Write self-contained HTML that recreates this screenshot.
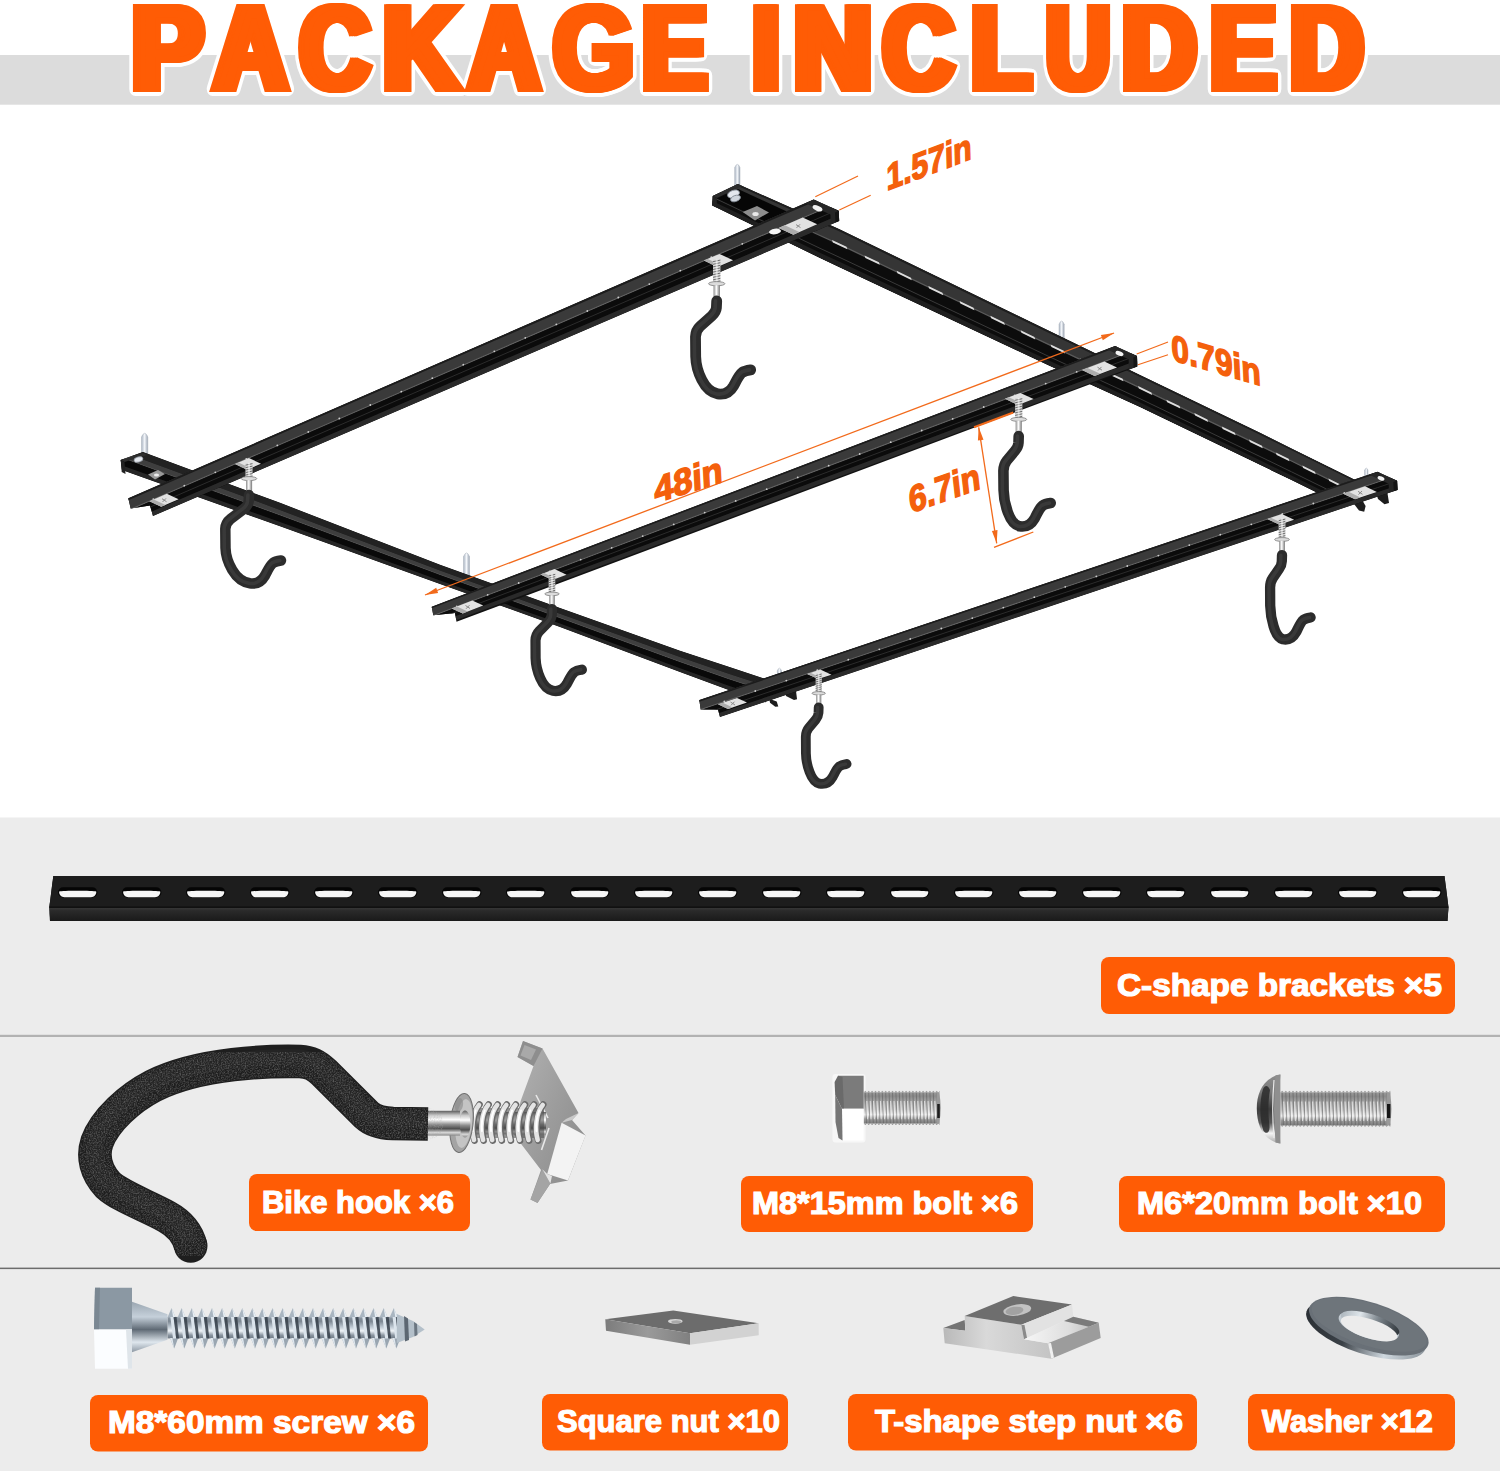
<!DOCTYPE html>
<html lang="en">
<head>
<meta charset="utf-8">
<title>Package Included</title>
<style>
html,body{margin:0;padding:0;background:#fff;}
body{width:1500px;height:1471px;overflow:hidden;font-family:"Liberation Sans",sans-serif;}
svg{display:block;position:absolute;left:0;top:0;}
text{font-family:"Liberation Sans",sans-serif;}
</style>
</head>
<body>
<svg width="1500" height="1471" viewBox="0 0 1500 1471">

<!-- backgrounds -->
<rect x="0" y="0" width="1500" height="1471" fill="#ffffff"/>
<rect x="0" y="55" width="1500" height="49.7" fill="#dcdcdc"/>
<rect x="0" y="817.5" width="1500" height="653.5" fill="#ececec"/>
<rect x="0" y="1034.8" width="1500" height="2.2" fill="#b2b2b2"/>
<rect x="0" y="1267.6" width="1500" height="1.5" fill="#6c6c6c"/>

<!-- diagram -->
<defs>
<clipPath id="c1"><polygon points="712.8,195.9 737.9,184.1 820.0,220.6 839.0,229.0 1050.0,331.3 1140.0,375.0 1260.0,432.8 1291.5,448.4 1330.0,467.4 1352.8,478.7 1385.0,494.0 1330.0,499.0 1291.5,480.0 1260.0,464.8 1140.0,407.0 1050.0,366.0 839.0,266.9 820.0,258.0 737.9,218.0 712.3,205.5"/></clipPath>
<clipPath id="c2"><polygon points="120.7,460.0 143.0,452.0 280.0,502.8 440.0,564.7 560.0,608.0 680.0,650.7 728.7,666.8 764.7,678.7 766.0,679.2 766.0,702.3 764.7,701.9 728.7,690.0 680.0,672.0 560.0,627.0 440.0,583.9 280.0,526.3 143.0,477.5 122.0,470.0"/></clipPath>
<clipPath id="c3"><polygon points="128.3,498.3 813.6,199.6 838.7,210.8 839.2,220.9 153.0,516.0 150.0,505.5 130.7,508.5"/></clipPath>
<clipPath id="c4"><polygon points="431.7,606.7 1115.0,346.0 1137.0,356.0 1137.4,366.5 456.5,621.7 455.0,613.0 433.3,615.3"/></clipPath>
<clipPath id="c5"><polygon points="699.3,700.0 1377.3,471.7 1397.1,480.8 1397.6,489.9 720.0,717.0 718.0,709.5 700.7,709.5"/></clipPath>
<linearGradient id="neck" x1="0" y1="0" x2="1" y2="0"><stop offset="0" stop-color="#8c8c8c"/><stop offset="0.45" stop-color="#ffffff"/><stop offset="1" stop-color="#777"/></linearGradient>
<linearGradient id="scr" x1="0" y1="0" x2="1" y2="0"><stop offset="0" stop-color="#aab4c2"/><stop offset="0.5" stop-color="#f4f7fb"/><stop offset="1" stop-color="#9aa4b2"/></linearGradient>
</defs>
<g>
<path d="M734.7,186.0 L734.7,167.5 Q737.4,161.2 740.0,167.5 L740.0,186.0z" fill="url(#scr)" stroke="#a9b0bb" stroke-width="0.5"/>
<path d="M1059.0,340.0 L1059.0,324.2 Q1061.6,317.9 1064.2,324.2 L1064.2,340.0z" fill="url(#scr)" stroke="#a9b0bb" stroke-width="0.5"/>
<path d="M1364.6,476.0 L1364.6,470.2 Q1366.3,466.1 1368.0,470.2 L1368.0,476.0z" fill="url(#scr)" stroke="#a9b0bb" stroke-width="0.5"/>
<path d="M141.5,455.0 L141.5,437.0 Q144.7,429.5 147.8,437.0 L147.8,455.0z" fill="url(#scr)" stroke="#a9b0bb" stroke-width="0.5"/>
<path d="M463.5,579.0 L463.5,556.5 Q466.5,549.3 469.5,556.5 L469.5,579.0z" fill="url(#scr)" stroke="#a9b0bb" stroke-width="0.5"/>
<path d="M777.3,676.0 L777.3,670.7 Q779.4,665.6 781.5,670.7 L781.5,676.0z" fill="url(#scr)" stroke="#a9b0bb" stroke-width="0.5"/>
<polygon points="712.8,195.9 737.9,184.1 820.0,220.6 839.0,229.0 1050.0,331.3 1140.0,375.0 1260.0,432.8 1291.5,448.4 1330.0,467.4 1352.8,478.7 1385.0,494.0 1330.0,499.0 1291.5,480.0 1260.0,464.8 1140.0,407.0 1050.0,366.0 839.0,266.9 820.0,258.0 737.9,218.0 712.3,205.5" fill="#101010" />
<g clip-path="url(#c1)">
<polygon points="700.0,167.3 712.3,172.7 737.9,184.1 820.0,220.6 839.0,229.0 1050.0,331.3 1140.0,375.0 1260.0,432.8 1291.5,448.4 1330.0,467.4 1352.8,478.7 1385.0,494.0 1400.0,501.1 1400.0,514.1 1385.0,506.9 1352.8,491.3 1330.0,480.1 1291.5,461.0 1260.0,445.6 1140.0,387.8 1050.0,345.2 839.0,244.2 820.0,235.5 737.9,197.7 712.3,185.8 700.0,180.2" fill="#353535" />
<polygon points="700.0,167.3 712.3,172.7 737.9,184.1 820.0,220.6 839.0,229.0 1050.0,331.3 1140.0,375.0 1260.0,432.8 1291.5,448.4 1330.0,467.4 1352.8,478.7 1385.0,494.0 1400.0,501.1 1400.0,503.1 1385.0,495.9 1352.8,480.6 1330.0,469.3 1291.5,450.3 1260.0,434.7 1140.0,376.9 1050.0,333.4 839.0,231.3 820.0,222.8 737.9,186.1 712.3,174.7 700.0,169.2" fill="#1e1e1e" />
<polyline points="700.0,180.2 712.3,185.8 737.9,197.7 820.0,235.5 839.0,244.2 1050.0,345.2 1140.0,387.8 1260.0,445.6 1291.5,461.0 1330.0,480.1 1352.8,491.3 1385.0,506.9 1400.0,514.1" fill="none" stroke="#5a5a5a" stroke-width="1.3"/>
<polygon points="700.0,181.5 712.3,187.1 737.9,199.0 820.0,237.0 839.0,245.7 1050.0,346.6 1140.0,389.1 1260.0,446.9 1291.5,462.3 1330.0,481.3 1352.8,492.6 1385.0,508.1 1400.0,515.4 1400.0,533.5 1385.0,526.1 1352.8,510.3 1330.0,499.0 1291.5,480.0 1260.0,464.8 1140.0,407.0 1050.0,366.0 839.0,266.9 820.0,258.0 737.9,218.0 712.3,205.5 700.0,199.5" fill="#0c0c0c" />
<polyline points="700.0,191.1 712.3,197.0 737.9,209.2 820.0,248.3 839.0,257.1 1050.0,357.0 1140.0,398.7 1260.0,456.5 1291.5,471.8 1330.0,490.8 1352.8,502.0 1385.0,517.8 1400.0,525.1" fill="none" stroke="#3a3a3a" stroke-width="1.0"/>
<polygon points="700.0,195.0 712.3,200.9 737.9,213.2 820.0,252.8 839.0,261.6 1050.0,361.1 1140.0,402.5 1260.0,460.3 1291.5,475.6 1330.0,494.6 1352.8,505.8 1385.0,521.6 1400.0,529.0 1400.0,533.5 1385.0,526.1 1352.8,510.3 1330.0,499.0 1291.5,480.0 1260.0,464.8 1140.0,407.0 1050.0,366.0 839.0,266.9 820.0,258.0 737.9,218.0 712.3,205.5 700.0,199.5" fill="#1f1f1f" />
</g>
<polygon points="712.8,195.9 737.9,184.1 742.0,186.0 717.0,198.0" fill="#2c2c2c" />
<polygon points="712.8,195.9 717.0,198.0 716.5,207.5 712.3,205.5" fill="#232323" />
<polygon points="718.0,198.5 738.0,189.0 790.0,213.0 772.0,224.0" fill="#060606" />
<polygon points="832.0,240.0 846.5,246.8 847.4,249.3 832.9,242.5" fill="#dedede" />
<polygon points="864.5,255.5 878.9,262.3 879.8,264.8 865.4,258.0" fill="#dedede" />
<polygon points="896.6,270.8 910.9,277.7 911.8,280.2 897.5,273.3" fill="#dedede" />
<polygon points="928.3,286.0 942.4,292.8 943.3,295.3 929.2,288.5" fill="#dedede" />
<polygon points="959.5,301.0 973.5,307.7 974.4,310.2 960.4,303.5" fill="#dedede" />
<polygon points="990.3,315.7 1004.1,322.4 1005.0,324.9 991.2,318.2" fill="#dedede" />
<polygon points="1020.6,330.3 1034.4,336.9 1035.3,339.4 1021.5,332.8" fill="#dedede" />
<polygon points="1050.6,344.6 1064.2,351.1 1065.1,353.6 1051.5,347.1" fill="#dedede" />
<polygon points="1080.1,358.6 1093.6,365.0 1094.5,367.5 1081.0,361.1" fill="#dedede" />
<polygon points="1109.2,372.4 1122.6,378.8 1123.5,381.3 1110.1,374.9" fill="#dedede" />
<polygon points="1138.0,386.0 1151.3,392.4 1152.2,394.9 1138.9,388.5" fill="#dedede" />
<polygon points="1166.3,399.7 1179.5,406.0 1180.4,408.5 1167.2,402.2" fill="#dedede" />
<polygon points="1194.3,413.1 1207.3,419.4 1208.2,421.9 1195.2,415.6" fill="#dedede" />
<polygon points="1221.8,426.4 1234.8,432.7 1235.7,435.2 1222.7,428.9" fill="#dedede" />
<polygon points="1249.0,439.5 1261.9,445.7 1262.8,448.2 1249.9,442.0" fill="#dedede" />
<polygon points="1275.8,452.6 1288.6,458.8 1289.5,461.3 1276.7,455.1" fill="#dedede" />
<polygon points="1302.3,465.6 1314.9,471.8 1315.8,474.3 1303.2,468.1" fill="#dedede" />
<polygon points="1328.4,478.5 1340.9,484.7 1341.8,487.2 1329.3,481.0" fill="#dedede" />
<polygon points="120.7,460.0 143.0,452.0 280.0,502.8 440.0,564.7 560.0,608.0 680.0,650.7 728.7,666.8 764.7,678.7 766.0,679.2 766.0,702.3 764.7,701.9 728.7,690.0 680.0,672.0 560.0,627.0 440.0,583.9 280.0,526.3 143.0,477.5 122.0,470.0" fill="#0d0d0d" />
<g clip-path="url(#c2)">
<polygon points="100.0,436.1 122.0,444.2 143.0,452.0 280.0,502.8 440.0,564.7 560.0,608.0 680.0,650.7 728.7,666.8 764.7,678.7 797.0,691.0 820.0,699.8 820.0,705.9 797.0,697.5 764.7,685.6 728.7,673.8 680.0,657.1 560.0,613.7 440.0,570.5 280.0,509.9 143.0,459.6 122.0,451.9 100.0,443.9" fill="#222222" />
<polygon points="100.0,443.9 122.0,451.9 143.0,459.6 280.0,509.9 440.0,570.5 560.0,613.7 680.0,657.1 728.7,673.8 764.7,685.6 797.0,697.5 820.0,705.9 820.0,710.3 797.0,702.2 764.7,690.7 728.7,678.9 680.0,661.8 560.0,617.9 440.0,574.7 280.0,515.0 143.0,465.3 122.0,457.6 100.0,449.6" fill="#3e3e3e" />
<polyline points="100.0,449.6 122.0,457.6 143.0,465.3 280.0,515.0 440.0,574.7 560.0,617.9 680.0,661.8 728.7,678.9 764.7,690.7 797.0,702.2 820.0,710.3" fill="none" stroke="#555555" stroke-width="1.0"/>
<polygon points="100.0,450.2 122.0,458.1 143.0,465.8 280.0,515.5 440.0,575.1 560.0,618.3 680.0,662.2 728.7,679.3 764.7,691.2 797.0,702.6 820.0,710.7 820.0,716.4 797.0,708.6 764.7,697.7 728.7,685.8 680.0,668.2 560.0,623.6 440.0,580.4 280.0,522.1 143.0,472.9 122.0,465.4 100.0,457.5" fill="#090909" />
<polygon points="100.0,457.5 122.0,465.4 143.0,472.9 280.0,522.1 440.0,580.4 560.0,623.6 680.0,668.2 728.7,685.8 764.7,697.7 797.0,708.6 820.0,716.4 820.0,720.1 797.0,712.5 764.7,701.9 728.7,690.0 680.0,672.0 560.0,627.0 440.0,583.9 280.0,526.3 143.0,477.5 122.0,470.0 100.0,462.2" fill="#262626" />
</g>
<polygon points="120.7,460.0 143.0,453.0 147.0,455.0 124.5,462.0" fill="#2e2e2e" />
<polygon points="120.7,460.0 124.5,462.0 125.5,474.0 121.7,472.0" fill="#222" />
<polygon points="769.3,698.7 776.7,701.6 778.3,706.4 775.3,706.7 770.0,702.7" fill="#1d1d1d" />
<polygon points="785.3,692.7 796.0,690.7 797.0,699.3 794.0,700.0 786.0,696.0" fill="#1d1d1d" />
<polygon points="1351.7,501.0 1361.0,498.0 1365.6,506.0 1364.2,511.7 1359.0,510.5" fill="#1d1d1d" />
<polygon points="1376.3,493.5 1387.0,490.0 1389.0,503.0 1384.5,504.3 1378.0,499.0" fill="#1d1d1d" />
<polygon points="128.3,498.3 813.6,199.6 838.7,210.8 839.2,220.9 153.0,516.0 150.0,505.5 130.7,508.5" fill="#121212" />
<g clip-path="url(#c3)">
<polygon points="108.3,507.0 128.3,498.3 151.0,488.4 813.6,199.6 839.2,188.4 858.7,179.9 858.7,193.6 839.2,202.1 813.6,213.2 151.0,500.4 128.3,510.3 108.3,518.9" fill="#3a3a3a" />
<polygon points="108.3,507.0 128.3,498.3 151.0,488.4 813.6,199.6 839.2,188.4 858.7,179.9 858.7,182.2 839.2,190.7 813.6,201.9 151.0,490.4 128.3,500.3 108.3,509.0" fill="#1c1c1c" />
<polyline points="108.3,518.9 128.3,510.3 151.0,500.4 813.6,213.2 839.2,202.1 858.7,193.6" fill="none" stroke="#626262" stroke-width="1.1"/>
<polygon points="108.3,519.8 128.3,511.1 151.0,501.3 813.6,214.1 839.2,203.0 858.7,194.6 858.7,206.6 839.2,215.1 813.6,226.1 151.0,511.9 128.3,521.6 108.3,530.3" fill="#0b0b0b" />
<polyline points="108.3,525.2 128.3,516.5 151.0,506.7 813.6,220.3 839.2,209.2 858.7,200.8" fill="none" stroke="#2c2c2c" stroke-width="1.0"/>
<polygon points="108.3,530.3 128.3,521.6 151.0,511.9 813.6,226.1 839.2,215.1 858.7,206.6 858.7,212.5 839.2,220.9 813.6,231.9 151.0,517.0 128.3,526.8 108.3,535.4" fill="#2a2a2a" />
<circle cx="153.3" cy="499.1" r="0.9" fill="#cfcfcf"/>
<circle cx="184.3" cy="485.7" r="0.9" fill="#cfcfcf"/>
<circle cx="215.3" cy="472.3" r="0.9" fill="#cfcfcf"/>
<circle cx="246.3" cy="458.8" r="0.9" fill="#cfcfcf"/>
<circle cx="277.3" cy="445.4" r="0.9" fill="#cfcfcf"/>
<circle cx="308.3" cy="431.9" r="0.9" fill="#cfcfcf"/>
<circle cx="339.3" cy="418.5" r="0.9" fill="#cfcfcf"/>
<circle cx="370.3" cy="405.0" r="0.9" fill="#cfcfcf"/>
<circle cx="401.3" cy="391.6" r="0.9" fill="#cfcfcf"/>
<circle cx="432.3" cy="378.2" r="0.9" fill="#cfcfcf"/>
<circle cx="463.3" cy="364.7" r="0.9" fill="#cfcfcf"/>
<circle cx="494.3" cy="351.3" r="0.9" fill="#cfcfcf"/>
<circle cx="525.3" cy="337.8" r="0.9" fill="#cfcfcf"/>
<circle cx="556.3" cy="324.4" r="0.9" fill="#cfcfcf"/>
<circle cx="587.3" cy="311.0" r="0.9" fill="#cfcfcf"/>
<circle cx="618.3" cy="297.5" r="0.9" fill="#cfcfcf"/>
<circle cx="649.3" cy="284.1" r="0.9" fill="#cfcfcf"/>
<circle cx="680.3" cy="270.6" r="0.9" fill="#cfcfcf"/>
<circle cx="711.3" cy="257.2" r="0.9" fill="#cfcfcf"/>
<circle cx="742.3" cy="243.8" r="0.9" fill="#cfcfcf"/>
<circle cx="773.3" cy="230.3" r="0.9" fill="#cfcfcf"/>
<polygon points="813.6,199.6 838.7,210.8 839.2,220.9 830.9,224.5 830.4,214.4 805.3,203.2" fill="#262626" />
<polygon points="838.7,210.8 839.2,220.9 835.5,222.5 835.0,212.4" fill="#151515" />
</g>
<ellipse cx="817.5" cy="208.3" rx="5.2" ry="2.6" fill="#f2f2f2" transform="rotate(22 817.5 208.3)"/>
<polygon points="431.7,606.7 1115.0,346.0 1137.0,356.0 1137.4,366.5 456.5,621.7 455.0,613.0 433.3,615.3" fill="#121212" />
<g clip-path="url(#c4)">
<polygon points="411.7,614.3 431.7,606.7 456.0,597.4 1115.0,346.0 1137.4,337.5 1157.0,330.0 1157.0,341.7 1137.4,349.1 1115.0,357.6 456.0,607.0 431.7,616.2 411.7,623.8" fill="#3a3a3a" />
<polygon points="411.7,614.3 431.7,606.7 456.0,597.4 1115.0,346.0 1137.4,337.5 1157.0,330.0 1157.0,331.9 1137.4,339.4 1115.0,347.9 456.0,599.0 431.7,608.3 411.7,615.9" fill="#1c1c1c" />
<polyline points="411.7,623.8 431.7,616.2 456.0,607.0 1115.0,357.6 1137.4,349.1 1157.0,341.7" fill="none" stroke="#626262" stroke-width="1.1"/>
<polygon points="411.7,624.4 431.7,616.9 456.0,607.7 1115.0,358.5 1137.4,350.0 1157.0,342.6 1157.0,352.9 1137.4,360.3 1115.0,368.7 456.0,616.1 431.7,625.2 411.7,632.7" fill="#0b0b0b" />
<polyline points="411.7,628.7 431.7,621.2 456.0,612.0 1115.0,363.7 1137.4,355.3 1157.0,347.9" fill="none" stroke="#2c2c2c" stroke-width="1.0"/>
<polygon points="411.7,632.7 431.7,625.2 456.0,616.1 1115.0,368.7 1137.4,360.3 1157.0,352.9 1157.0,358.0 1137.4,365.3 1115.0,373.7 456.0,620.2 431.7,629.3 411.7,636.8" fill="#2a2a2a" />
<circle cx="456.7" cy="606.5" r="0.9" fill="#cfcfcf"/>
<circle cx="487.7" cy="594.8" r="0.9" fill="#cfcfcf"/>
<circle cx="518.7" cy="583.0" r="0.9" fill="#cfcfcf"/>
<circle cx="549.7" cy="571.3" r="0.9" fill="#cfcfcf"/>
<circle cx="580.7" cy="559.6" r="0.9" fill="#cfcfcf"/>
<circle cx="611.7" cy="547.8" r="0.9" fill="#cfcfcf"/>
<circle cx="642.7" cy="536.1" r="0.9" fill="#cfcfcf"/>
<circle cx="673.7" cy="524.4" r="0.9" fill="#cfcfcf"/>
<circle cx="704.7" cy="512.6" r="0.9" fill="#cfcfcf"/>
<circle cx="735.7" cy="500.9" r="0.9" fill="#cfcfcf"/>
<circle cx="766.7" cy="489.2" r="0.9" fill="#cfcfcf"/>
<circle cx="797.7" cy="477.4" r="0.9" fill="#cfcfcf"/>
<circle cx="828.7" cy="465.7" r="0.9" fill="#cfcfcf"/>
<circle cx="859.7" cy="454.0" r="0.9" fill="#cfcfcf"/>
<circle cx="890.7" cy="442.2" r="0.9" fill="#cfcfcf"/>
<circle cx="921.7" cy="430.5" r="0.9" fill="#cfcfcf"/>
<circle cx="952.7" cy="418.8" r="0.9" fill="#cfcfcf"/>
<circle cx="983.7" cy="407.0" r="0.9" fill="#cfcfcf"/>
<circle cx="1014.7" cy="395.3" r="0.9" fill="#cfcfcf"/>
<circle cx="1045.7" cy="383.6" r="0.9" fill="#cfcfcf"/>
<circle cx="1076.7" cy="371.8" r="0.9" fill="#cfcfcf"/>
<polygon points="1115.0,346.0 1137.0,356.0 1137.4,366.5 1129.0,369.7 1128.6,359.2 1106.6,349.2" fill="#262626" />
<polygon points="1137.0,356.0 1137.4,366.5 1133.7,367.9 1133.3,357.4" fill="#151515" />
</g>
<ellipse cx="1119.5" cy="353.5" rx="4.2" ry="2.2" fill="#f2f2f2" transform="rotate(22 1119.5 353.5)"/>
<polygon points="699.3,700.0 1377.3,471.7 1397.1,480.8 1397.6,489.9 720.0,717.0 718.0,709.5 700.7,709.5" fill="#121212" />
<g clip-path="url(#c5)">
<polygon points="679.3,706.7 699.3,700.0 720.0,693.0 1377.3,471.7 1397.6,464.9 1417.1,458.3 1417.1,468.8 1397.6,475.4 1377.3,482.2 720.0,703.1 699.3,710.1 679.3,716.8" fill="#3a3a3a" />
<polygon points="679.3,706.7 699.3,700.0 720.0,693.0 1377.3,471.7 1397.6,464.9 1417.1,458.3 1417.1,460.1 1397.6,466.6 1377.3,473.5 720.0,694.7 699.3,701.7 679.3,708.4" fill="#1c1c1c" />
<polyline points="679.3,716.8 699.3,710.1 720.0,703.1 1377.3,482.2 1397.6,475.4 1417.1,468.8" fill="none" stroke="#626262" stroke-width="1.1"/>
<polygon points="679.3,717.5 699.3,710.8 720.0,703.8 1377.3,483.0 1397.6,476.1 1417.1,469.6 1417.1,478.9 1397.6,485.4 1377.3,492.2 720.0,712.7 699.3,719.6 679.3,726.3" fill="#0b0b0b" />
<polyline points="679.3,722.0 699.3,715.3 720.0,708.4 1377.3,487.7 1397.6,480.9 1417.1,474.3" fill="none" stroke="#2c2c2c" stroke-width="1.0"/>
<polygon points="679.3,726.3 699.3,719.6 720.0,712.7 1377.3,492.2 1397.6,485.4 1417.1,478.9 1417.1,483.4 1397.6,489.9 1377.3,496.7 720.0,717.0 699.3,723.9 679.3,730.6" fill="#2a2a2a" />
<circle cx="724.3" cy="701.4" r="0.9" fill="#cfcfcf"/>
<circle cx="755.3" cy="691.0" r="0.9" fill="#cfcfcf"/>
<circle cx="786.3" cy="680.6" r="0.9" fill="#cfcfcf"/>
<circle cx="817.3" cy="670.2" r="0.9" fill="#cfcfcf"/>
<circle cx="848.3" cy="659.7" r="0.9" fill="#cfcfcf"/>
<circle cx="879.3" cy="649.3" r="0.9" fill="#cfcfcf"/>
<circle cx="910.3" cy="638.9" r="0.9" fill="#cfcfcf"/>
<circle cx="941.3" cy="628.5" r="0.9" fill="#cfcfcf"/>
<circle cx="972.3" cy="618.1" r="0.9" fill="#cfcfcf"/>
<circle cx="1003.3" cy="607.6" r="0.9" fill="#cfcfcf"/>
<circle cx="1034.3" cy="597.2" r="0.9" fill="#cfcfcf"/>
<circle cx="1065.3" cy="586.8" r="0.9" fill="#cfcfcf"/>
<circle cx="1096.3" cy="576.4" r="0.9" fill="#cfcfcf"/>
<circle cx="1127.3" cy="566.0" r="0.9" fill="#cfcfcf"/>
<circle cx="1158.3" cy="555.6" r="0.9" fill="#cfcfcf"/>
<circle cx="1189.3" cy="545.1" r="0.9" fill="#cfcfcf"/>
<circle cx="1220.3" cy="534.7" r="0.9" fill="#cfcfcf"/>
<circle cx="1251.3" cy="524.3" r="0.9" fill="#cfcfcf"/>
<circle cx="1282.3" cy="513.9" r="0.9" fill="#cfcfcf"/>
<circle cx="1313.3" cy="503.5" r="0.9" fill="#cfcfcf"/>
<circle cx="1344.3" cy="493.0" r="0.9" fill="#cfcfcf"/>
<polygon points="1377.3,471.7 1397.1,480.8 1397.6,489.9 1389.1,492.8 1388.6,483.7 1368.8,474.6" fill="#262626" />
<polygon points="1397.1,480.8 1397.6,489.9 1393.8,491.2 1393.3,482.1" fill="#151515" />
</g>
<ellipse cx="1381" cy="478.3" rx="3.6" ry="2.0" fill="#f2f2f2" transform="rotate(22 1381 478.3)"/>
<polygon points="778.8,227.9 802.7,217.5 817.2,224.3 793.3,234.7" fill="#e2e2e2" />
<polygon points="778.8,227.9 784.8,225.3 799.3,232.1 793.3,234.7" fill="#adadad" />
<line x1="796.0" y1="224.6" x2="800.5" y2="227.6" stroke="#8a8a8a" stroke-width="1" />
<line x1="796.5" y1="227.9" x2="800.0" y2="224.3" stroke="#8a8a8a" stroke-width="1" />
<ellipse cx="775" cy="231.5" rx="6" ry="2.8" fill="#f4f4f4" transform="rotate(-8 775 231.5)"/>
<polygon points="149.4,501.3 166.8,493.7 178.6,499.2 161.2,506.8" fill="#e2e2e2" />
<polygon points="149.4,501.3 153.8,499.4 165.5,504.9 161.2,506.8" fill="#adadad" />
<line x1="162.0" y1="498.7" x2="166.5" y2="501.7" stroke="#8a8a8a" stroke-width="1" />
<line x1="162.5" y1="502.0" x2="166.0" y2="498.4" stroke="#8a8a8a" stroke-width="1" />
<polygon points="1082.0,370.0 1104.4,361.5 1117.0,367.4 1094.6,376.0" fill="#e2e2e2" />
<polygon points="1082.0,370.0 1087.6,367.9 1100.2,373.8 1094.6,376.0" fill="#adadad" />
<line x1="1097.5" y1="367.2" x2="1102.0" y2="370.2" stroke="#8a8a8a" stroke-width="1" />
<line x1="1098.0" y1="370.5" x2="1101.5" y2="366.9" stroke="#8a8a8a" stroke-width="1" />
<polygon points="451.8,608.4 472.3,600.5 483.2,605.6 462.7,613.5" fill="#e2e2e2" />
<polygon points="451.8,608.4 456.9,606.4 467.8,611.5 462.7,613.5" fill="#adadad" />
<line x1="465.5" y1="605.5" x2="470.0" y2="608.5" stroke="#8a8a8a" stroke-width="1" />
<line x1="466.0" y1="608.8" x2="469.5" y2="605.2" stroke="#8a8a8a" stroke-width="1" />
<polygon points="1343.2,493.7 1365.0,486.3 1376.8,491.9 1355.0,499.2" fill="#e2e2e2" />
<polygon points="1343.2,493.7 1348.7,491.8 1360.4,497.4 1355.0,499.2" fill="#adadad" />
<line x1="1358.0" y1="491.3" x2="1362.5" y2="494.3" stroke="#8a8a8a" stroke-width="1" />
<line x1="1358.5" y1="494.6" x2="1362.0" y2="491.0" stroke="#8a8a8a" stroke-width="1" />
<polygon points="718.0,704.3 737.0,697.9 747.0,702.6 728.0,709.0" fill="#e2e2e2" />
<polygon points="718.0,704.3 722.8,702.7 732.7,707.4 728.0,709.0" fill="#adadad" />
<line x1="730.5" y1="702.0" x2="735.0" y2="705.0" stroke="#8a8a8a" stroke-width="1" />
<line x1="731.0" y1="705.3" x2="734.5" y2="701.7" stroke="#8a8a8a" stroke-width="1" />
<ellipse cx="733.5" cy="194" rx="6.2" ry="3.6" fill="#e4e8ee" stroke="#8d949e" stroke-width="0.8" transform="rotate(-20 733.5 194)"/>
<ellipse cx="735.5" cy="198.5" rx="5.2" ry="3" fill="#cfd5dd" stroke="#808792" stroke-width="0.8" transform="rotate(-20 735.5 198.5)"/>
<polygon points="742.7,212.0 757.0,206.0 769.0,212.5 755.0,220.5" fill="#8d8d8d" />
<ellipse cx="755.5" cy="214" rx="3.2" ry="2" fill="#e9e9e9"/>
<ellipse cx="138.5" cy="459.5" rx="4.6" ry="2.6" fill="#e4e8ee" stroke="#8d949e" stroke-width="0.7" transform="rotate(-15 138.5 459.5)"/>
<polygon points="148.0,474.5 158.0,470.0 165.0,474.0 155.0,479.5" fill="#9a9a9a" />
<ellipse cx="156.5" cy="475" rx="2.6" ry="1.6" fill="#ececec"/>
<polygon points="703.9,260.6 719.5,253.9 733.1,260.2 717.5,267.0" fill="#e2e2e2" />
<polygon points="703.9,260.6 707.8,258.9 721.4,265.3 717.5,267.0" fill="#adadad" />
<rect x="713.0" y="259.4" width="7.4" height="24.3" fill="#d9d9d9"/>
<line x1="713.0" y1="261.7" x2="720.4" y2="260.1" stroke="#6f6f6f" stroke-width="1.0" />
<line x1="713.0" y1="264.3" x2="720.4" y2="262.7" stroke="#6f6f6f" stroke-width="1.0" />
<line x1="713.0" y1="266.9" x2="720.4" y2="265.3" stroke="#6f6f6f" stroke-width="1.0" />
<line x1="713.0" y1="269.5" x2="720.4" y2="267.9" stroke="#6f6f6f" stroke-width="1.0" />
<line x1="713.0" y1="272.1" x2="720.4" y2="270.5" stroke="#6f6f6f" stroke-width="1.0" />
<line x1="713.0" y1="274.7" x2="720.4" y2="273.1" stroke="#6f6f6f" stroke-width="1.0" />
<line x1="713.0" y1="277.3" x2="720.4" y2="275.7" stroke="#6f6f6f" stroke-width="1.0" />
<line x1="713.0" y1="279.9" x2="720.4" y2="278.3" stroke="#6f6f6f" stroke-width="1.0" />
<line x1="713.0" y1="282.5" x2="720.4" y2="280.9" stroke="#6f6f6f" stroke-width="1.0" />
<rect x="715.7" y="259.4" width="2.0" height="24.3" fill="#ffffff" opacity="0.55"/>
<ellipse cx="716.7" cy="283.7" rx="8.2" ry="2.1" fill="#dcdcdc" stroke="#7d7d7d" stroke-width="0.8"/>
<rect x="713.5" y="285.2" width="6.4" height="15.0" fill="url(#neck)"/>
<path d="M716.7,300.9 L716.4,307.7 C716.1,311.2 714.7,313.2 711.7,315.9 L700.2,326.2 C697.2,328.9 695.7,331.7 695.5,336.7 L695.7,356.7 C695.9,364.7 698.2,372.7 701.7,379.7 C705.7,387.7 710.7,392.7 717.7,393.9 C724.7,395.1 730.2,391.7 733.7,385.7 C736.7,380.2 738.7,375.2 742.2,372.5 C744.7,370.7 747.7,370.3 750.7,369.9 " fill="none" stroke="#2c2c2c" stroke-width="10.8" stroke-linecap="round" stroke-linejoin="round"/>
<path d="M715.5,300.9 L715.2,307.7 C714.9,311.2 713.5,313.2 710.5,315.9 L699.0,326.2 C696.0,328.9 694.5,331.7 694.3,336.7 L694.5,356.7 C694.7,364.7 697.0,372.7 700.5,379.7 C704.5,387.7 709.5,392.7 716.5,393.9 C723.5,395.1 729.0,391.7 732.5,385.7 C735.5,380.2 737.5,375.2 741.0,372.5 C743.5,370.7 746.5,370.3 749.5,369.9 " fill="none" stroke="#3d3d3d" stroke-width="3.6" stroke-linecap="round" stroke-linejoin="round" opacity="0.8"/>
<polygon points="1005.0,398.8 1020.4,392.9 1033.6,399.1 1018.2,405.0" fill="#e2e2e2" />
<polygon points="1005.0,398.8 1008.9,397.3 1022.0,403.5 1018.2,405.0" fill="#adadad" />
<rect x="1015.1" y="398.0" width="7.2" height="21.4" fill="#d9d9d9"/>
<line x1="1015.1" y1="400.3" x2="1022.3" y2="398.7" stroke="#6f6f6f" stroke-width="1.0" />
<line x1="1015.1" y1="402.8" x2="1022.3" y2="401.2" stroke="#6f6f6f" stroke-width="1.0" />
<line x1="1015.1" y1="405.3" x2="1022.3" y2="403.7" stroke="#6f6f6f" stroke-width="1.0" />
<line x1="1015.1" y1="407.8" x2="1022.3" y2="406.2" stroke="#6f6f6f" stroke-width="1.0" />
<line x1="1015.1" y1="410.4" x2="1022.3" y2="408.8" stroke="#6f6f6f" stroke-width="1.0" />
<line x1="1015.1" y1="412.9" x2="1022.3" y2="411.3" stroke="#6f6f6f" stroke-width="1.0" />
<line x1="1015.1" y1="415.4" x2="1022.3" y2="413.8" stroke="#6f6f6f" stroke-width="1.0" />
<line x1="1015.1" y1="417.9" x2="1022.3" y2="416.3" stroke="#6f6f6f" stroke-width="1.0" />
<rect x="1017.7" y="398.0" width="1.9" height="21.4" fill="#ffffff" opacity="0.55"/>
<ellipse cx="1018.7" cy="419.4" rx="8.0" ry="2.0" fill="#dcdcdc" stroke="#7d7d7d" stroke-width="0.8"/>
<rect x="1015.6" y="420.8" width="6.2" height="14.5" fill="url(#neck)"/>
<path d="M1018.7,436.1 L1018.5,442.7 C1018.3,446.1 1017.3,448.0 1015.1,450.6 L1006.8,460.6 C1004.7,463.2 1003.6,465.9 1003.4,470.8 L1003.6,490.2 C1003.7,498.0 1005.4,505.7 1007.9,512.5 C1010.8,520.3 1014.4,525.1 1019.6,526.3 C1026.2,527.4 1031.4,524.1 1034.7,518.3 C1037.5,513.0 1039.4,508.1 1042.7,505.5 C1045.0,503.8 1047.8,503.4 1050.7,503.0 " fill="none" stroke="#2c2c2c" stroke-width="10.6" stroke-linecap="round" stroke-linejoin="round"/>
<path d="M1017.5,436.1 L1017.3,442.7 C1017.1,446.1 1016.1,448.0 1013.9,450.6 L1005.7,460.6 C1003.5,463.2 1002.4,465.9 1002.3,470.8 L1002.4,490.2 C1002.6,498.0 1004.2,505.7 1006.7,512.5 C1009.6,520.3 1013.2,525.1 1018.5,526.3 C1025.1,527.4 1030.2,524.1 1033.5,518.3 C1036.3,513.0 1038.2,508.1 1041.5,505.5 C1043.9,503.8 1046.7,503.4 1049.5,503.0 " fill="none" stroke="#3d3d3d" stroke-width="3.5" stroke-linecap="round" stroke-linejoin="round" opacity="0.8"/>
<polygon points="235.0,464.1 248.9,458.0 261.0,463.7 247.1,469.8" fill="#e2e2e2" />
<polygon points="235.0,464.1 238.5,462.6 250.5,468.2 247.1,469.8" fill="#adadad" />
<rect x="245.5" y="462.9" width="7.0" height="15.7" fill="#d9d9d9"/>
<line x1="245.5" y1="465.2" x2="252.5" y2="463.6" stroke="#6f6f6f" stroke-width="1.0" />
<line x1="245.5" y1="467.7" x2="252.5" y2="466.1" stroke="#6f6f6f" stroke-width="1.0" />
<line x1="245.5" y1="470.1" x2="252.5" y2="468.5" stroke="#6f6f6f" stroke-width="1.0" />
<line x1="245.5" y1="472.6" x2="252.5" y2="471.0" stroke="#6f6f6f" stroke-width="1.0" />
<line x1="245.5" y1="475.1" x2="252.5" y2="473.5" stroke="#6f6f6f" stroke-width="1.0" />
<line x1="245.5" y1="477.6" x2="252.5" y2="476.0" stroke="#6f6f6f" stroke-width="1.0" />
<rect x="248.1" y="462.9" width="1.9" height="15.7" fill="#ffffff" opacity="0.55"/>
<ellipse cx="249.0" cy="478.6" rx="7.8" ry="2.0" fill="#dcdcdc" stroke="#7d7d7d" stroke-width="0.8"/>
<rect x="246.0" y="480.1" width="6.1" height="14.2" fill="url(#neck)"/>
<path d="M249.0,495.0 L248.7,501.4 C248.3,504.8 246.8,506.7 243.4,509.2 L230.5,519.0 C227.2,521.6 225.5,524.2 225.3,529.0 L225.5,548.0 C225.7,555.6 228.3,563.2 232.2,569.9 C236.7,577.5 242.3,582.2 249.9,583.3 C256.5,584.5 261.7,581.2 265.0,575.5 C267.8,570.3 269.7,565.6 273.0,563.0 C275.3,561.3 278.1,560.9 281.0,560.5 " fill="none" stroke="#2c2c2c" stroke-width="10.5" stroke-linecap="round" stroke-linejoin="round"/>
<path d="M247.9,495.0 L247.5,501.4 C247.2,504.8 245.6,506.7 242.3,509.2 L229.4,519.0 C226.0,521.6 224.3,524.2 224.1,529.0 L224.3,548.0 C224.6,555.6 227.1,563.2 231.1,569.9 C235.5,577.5 241.1,582.2 248.8,583.3 C255.4,584.5 260.6,581.2 263.8,575.5 C266.7,570.3 268.5,565.6 271.8,563.0 C274.2,561.3 277.0,560.9 279.8,560.5 " fill="none" stroke="#3d3d3d" stroke-width="3.5" stroke-linecap="round" stroke-linejoin="round" opacity="0.8"/>
<polygon points="540.5,574.4 554.5,569.1 566.5,574.7 552.5,580.0" fill="#e2e2e2" />
<polygon points="540.5,574.4 544.0,573.1 556.0,578.7 552.5,580.0" fill="#adadad" />
<rect x="548.7" y="573.6" width="6.5" height="20.3" fill="#d9d9d9"/>
<line x1="548.7" y1="575.9" x2="555.3" y2="574.3" stroke="#6f6f6f" stroke-width="1.0" />
<line x1="548.7" y1="578.2" x2="555.3" y2="576.6" stroke="#6f6f6f" stroke-width="1.0" />
<line x1="548.7" y1="580.4" x2="555.3" y2="578.8" stroke="#6f6f6f" stroke-width="1.0" />
<line x1="548.7" y1="582.7" x2="555.3" y2="581.1" stroke="#6f6f6f" stroke-width="1.0" />
<line x1="548.7" y1="585.0" x2="555.3" y2="583.4" stroke="#6f6f6f" stroke-width="1.0" />
<line x1="548.7" y1="587.3" x2="555.3" y2="585.7" stroke="#6f6f6f" stroke-width="1.0" />
<line x1="548.7" y1="589.6" x2="555.3" y2="588.0" stroke="#6f6f6f" stroke-width="1.0" />
<line x1="548.7" y1="591.9" x2="555.3" y2="590.3" stroke="#6f6f6f" stroke-width="1.0" />
<line x1="548.7" y1="594.2" x2="555.3" y2="592.6" stroke="#6f6f6f" stroke-width="1.0" />
<rect x="551.1" y="573.6" width="1.8" height="20.3" fill="#ffffff" opacity="0.55"/>
<ellipse cx="552.0" cy="593.9" rx="7.2" ry="1.8" fill="#dcdcdc" stroke="#7d7d7d" stroke-width="0.8"/>
<rect x="549.2" y="595.2" width="5.6" height="13.2" fill="url(#neck)"/>
<path d="M552.0,609.0 L551.8,615.0 C551.5,618.1 550.4,619.8 548.1,622.2 L539.1,631.3 C536.8,633.6 535.6,636.1 535.5,640.5 L535.6,658.1 C535.8,665.1 537.6,672.2 540.3,678.3 C543.4,685.4 547.3,689.8 552.9,690.8 C559.0,691.9 563.9,688.9 567.0,683.6 C569.6,678.8 571.4,674.4 574.4,672.0 C576.6,670.4 579.3,670.1 581.9,669.7 " fill="none" stroke="#2c2c2c" stroke-width="10.2" stroke-linecap="round" stroke-linejoin="round"/>
<path d="M550.9,609.0 L550.7,615.0 C550.5,618.1 549.4,619.8 547.0,622.2 L538.1,631.3 C535.7,633.6 534.6,636.1 534.4,640.5 L534.6,658.1 C534.7,665.1 536.5,672.2 539.2,678.3 C542.4,685.4 546.3,689.8 551.8,690.8 C558.0,691.9 562.8,688.9 565.9,683.6 C568.5,678.8 570.3,674.4 573.4,672.0 C575.6,670.4 578.2,670.1 580.9,669.7 " fill="none" stroke="#3d3d3d" stroke-width="3.4" stroke-linecap="round" stroke-linejoin="round" opacity="0.8"/>
<polygon points="1267.3,519.0 1281.8,514.0 1294.1,519.8 1279.6,524.7" fill="#e2e2e2" />
<polygon points="1267.3,519.0 1270.9,517.7 1283.2,523.5 1279.6,524.7" fill="#adadad" />
<rect x="1278.7" y="518.4" width="6.7" height="21.1" fill="#d9d9d9"/>
<line x1="1278.7" y1="520.7" x2="1285.3" y2="519.1" stroke="#6f6f6f" stroke-width="1.0" />
<line x1="1278.7" y1="523.0" x2="1285.3" y2="521.4" stroke="#6f6f6f" stroke-width="1.0" />
<line x1="1278.7" y1="525.4" x2="1285.3" y2="523.8" stroke="#6f6f6f" stroke-width="1.0" />
<line x1="1278.7" y1="527.7" x2="1285.3" y2="526.1" stroke="#6f6f6f" stroke-width="1.0" />
<line x1="1278.7" y1="530.1" x2="1285.3" y2="528.5" stroke="#6f6f6f" stroke-width="1.0" />
<line x1="1278.7" y1="532.5" x2="1285.3" y2="530.9" stroke="#6f6f6f" stroke-width="1.0" />
<line x1="1278.7" y1="534.8" x2="1285.3" y2="533.2" stroke="#6f6f6f" stroke-width="1.0" />
<line x1="1278.7" y1="537.2" x2="1285.3" y2="535.6" stroke="#6f6f6f" stroke-width="1.0" />
<line x1="1278.7" y1="539.5" x2="1285.3" y2="537.9" stroke="#6f6f6f" stroke-width="1.0" />
<rect x="1281.1" y="518.4" width="1.8" height="21.1" fill="#ffffff" opacity="0.55"/>
<ellipse cx="1282.0" cy="539.5" rx="7.4" ry="1.9" fill="#dcdcdc" stroke="#7d7d7d" stroke-width="0.8"/>
<rect x="1279.1" y="540.9" width="5.8" height="13.6" fill="url(#neck)"/>
<path d="M1282.0,555.1 L1281.8,561.3 C1281.7,564.4 1280.9,566.2 1279.2,568.7 L1272.8,578.0 C1271.1,580.4 1270.2,583.0 1270.1,587.5 L1270.2,605.6 C1270.4,612.8 1271.6,620.1 1273.6,626.4 C1275.8,633.7 1278.6,638.2 1282.8,639.3 C1288.7,640.4 1293.3,637.3 1296.3,631.8 C1298.8,626.9 1300.5,622.3 1303.4,619.9 C1305.5,618.3 1308.0,617.9 1310.6,617.5 " fill="none" stroke="#2c2c2c" stroke-width="10.3" stroke-linecap="round" stroke-linejoin="round"/>
<path d="M1280.9,555.1 L1280.7,561.3 C1280.6,564.4 1279.8,566.2 1278.1,568.7 L1271.7,578.0 C1270.0,580.4 1269.2,583.0 1269.0,587.5 L1269.2,605.6 C1269.3,612.8 1270.6,620.1 1272.5,626.4 C1274.8,633.7 1277.6,638.2 1281.8,639.3 C1287.6,640.4 1292.3,637.3 1295.2,631.8 C1297.7,626.9 1299.4,622.3 1302.3,619.9 C1304.4,618.3 1307.0,617.9 1309.5,617.5 " fill="none" stroke="#3d3d3d" stroke-width="3.4" stroke-linecap="round" stroke-linejoin="round" opacity="0.8"/>
<polygon points="807.1,673.9 820.3,669.5 831.5,674.7 818.3,679.1" fill="#e2e2e2" />
<polygon points="807.1,673.9 810.4,672.8 821.6,678.0 818.3,679.1" fill="#adadad" />
<rect x="815.7" y="673.3" width="6.1" height="20.0" fill="#d9d9d9"/>
<line x1="815.7" y1="675.6" x2="821.7" y2="674.0" stroke="#6f6f6f" stroke-width="1.0" />
<line x1="815.7" y1="677.7" x2="821.7" y2="676.1" stroke="#6f6f6f" stroke-width="1.0" />
<line x1="815.7" y1="679.9" x2="821.7" y2="678.3" stroke="#6f6f6f" stroke-width="1.0" />
<line x1="815.7" y1="682.0" x2="821.7" y2="680.4" stroke="#6f6f6f" stroke-width="1.0" />
<line x1="815.7" y1="684.1" x2="821.7" y2="682.5" stroke="#6f6f6f" stroke-width="1.0" />
<line x1="815.7" y1="686.3" x2="821.7" y2="684.7" stroke="#6f6f6f" stroke-width="1.0" />
<line x1="815.7" y1="688.4" x2="821.7" y2="686.8" stroke="#6f6f6f" stroke-width="1.0" />
<line x1="815.7" y1="690.5" x2="821.7" y2="688.9" stroke="#6f6f6f" stroke-width="1.0" />
<line x1="815.7" y1="692.7" x2="821.7" y2="691.1" stroke="#6f6f6f" stroke-width="1.0" />
<rect x="817.9" y="673.3" width="1.6" height="20.0" fill="#ffffff" opacity="0.55"/>
<ellipse cx="818.7" cy="693.3" rx="6.7" ry="1.7" fill="#dcdcdc" stroke="#7d7d7d" stroke-width="0.8"/>
<rect x="816.1" y="694.6" width="5.2" height="12.3" fill="url(#neck)"/>
<path d="M818.7,707.4 L818.5,713.0 C818.3,715.9 817.5,717.5 815.7,719.7 L808.6,728.2 C806.8,730.4 805.9,732.7 805.8,736.8 L805.9,753.2 C806.0,759.8 807.4,766.3 809.6,772.1 C812.0,778.6 815.0,782.7 819.5,783.7 C825.3,784.7 829.8,781.9 832.6,777.0 C835.1,772.5 836.7,768.4 839.6,766.2 C841.7,764.7 844.1,764.4 846.6,764.0 " fill="none" stroke="#2c2c2c" stroke-width="9.8" stroke-linecap="round" stroke-linejoin="round"/>
<path d="M817.7,707.4 L817.5,713.0 C817.4,715.9 816.5,717.5 814.7,719.7 L807.7,728.2 C805.8,730.4 804.9,732.7 804.8,736.8 L804.9,753.2 C805.0,759.8 806.4,766.3 808.6,772.1 C811.0,778.6 814.1,782.7 818.5,783.7 C824.3,784.7 828.8,781.9 831.7,777.0 C834.1,772.5 835.8,768.4 838.6,766.2 C840.7,764.7 843.1,764.4 845.6,764.0 " fill="none" stroke="#3d3d3d" stroke-width="3.2" stroke-linecap="round" stroke-linejoin="round" opacity="0.8"/>
<line x1="815.3" y1="196.7" x2="858.0" y2="176.0" stroke="#f26a1b" stroke-width="1.2" />
<line x1="839.3" y1="210.0" x2="870.7" y2="195.3" stroke="#f26a1b" stroke-width="1.2" />
<text transform="matrix(0.9361 -0.3518 0.0262 0.9997 886.7 190.7)" x="0" y="0" font-size="37.0" font-weight="700" fill="#f4600c" stroke="#f4600c" stroke-width="1.5" textLength="91" lengthAdjust="spacingAndGlyphs">1.57in</text>
<line x1="1136.7" y1="354.0" x2="1168.0" y2="342.0" stroke="#f26a1b" stroke-width="1.2" />
<line x1="1138.0" y1="364.7" x2="1168.0" y2="354.7" stroke="#f26a1b" stroke-width="1.2" />
<text transform="matrix(0.9608 0.2773 0.0523 0.9986 1172.0 360.0)" x="0" y="0" font-size="37.0" font-weight="700" fill="#f4600c" stroke="#f4600c" stroke-width="1.5" textLength="93" lengthAdjust="spacingAndGlyphs">0.79in</text>
<line x1="425.0" y1="595.0" x2="1114.0" y2="333.0" stroke="#f26a1b" stroke-width="1.3" />
<polygon points="425.0,595.0 436.2,587.8 438.1,593.0" fill="#f26a1b" />
<polygon points="1114.0,333.0 1102.8,340.2 1100.9,335.0" fill="#f26a1b" />
<text transform="matrix(0.9537 -0.3007 0.0523 0.9986 655.0 503.3)" x="0" y="0" font-size="37.0" font-weight="700" fill="#f4600c" stroke="#f4600c" stroke-width="1.5" textLength="71.5" lengthAdjust="spacingAndGlyphs">48in</text>
<line x1="978.7" y1="427.3" x2="996.7" y2="543.3" stroke="#f26a1b" stroke-width="1.3" />
<polygon points="978.7,427.3 983.5,439.7 977.9,440.6" fill="#f26a1b" />
<polygon points="996.7,543.3 991.9,530.9 997.5,530.0" fill="#f26a1b" />
<line x1="994.0" y1="547.3" x2="1033.3" y2="532.0" stroke="#f26a1b" stroke-width="1.3" />
<line x1="974.0" y1="427.2" x2="1013.3" y2="412.5" stroke="#f26a1b" stroke-width="2.0" />
<text transform="matrix(0.9432 -0.3322 0.1132 0.9936 910.4 513.2)" x="0" y="0" font-size="37.0" font-weight="700" fill="#f4600c" stroke="#f4600c" stroke-width="1.5" textLength="75" lengthAdjust="spacingAndGlyphs">6.7in</text>
</g>

<!-- c-shape bracket -->
<defs><linearGradient id="brk" x1="0" y1="0" x2="0" y2="1"><stop offset="0" stop-color="#3a3a3a"/><stop offset="0.25" stop-color="#2a2a2a"/><stop offset="1" stop-color="#1a1a1a"/></linearGradient></defs>
<polygon points="53.3,876 1444.5,876 1448.5,907.3 1447.5,921 50,921 49.3,907.3" fill="#171717"/>
<polygon points="53.3,876 1444.5,876 1448.5,907.3 49.3,907.3" fill="#1d1d1d"/>
<polygon points="49.3,907.3 1448.5,907.3 1447.5,921 50,921" fill="url(#brk)"/>
<rect x="49.3" y="906.6" width="1399" height="1.2" fill="#0a0a0a"/>
<g fill="#050505">
<rect x="58.0" y="887.3" width="39.4" height="10.2" rx="5.1" ry="5.1"/>
<rect x="122.0" y="887.3" width="39.4" height="10.2" rx="5.1" ry="5.1"/>
<rect x="186.0" y="887.3" width="39.4" height="10.2" rx="5.1" ry="5.1"/>
<rect x="250.0" y="887.3" width="39.4" height="10.2" rx="5.1" ry="5.1"/>
<rect x="314.0" y="887.3" width="39.4" height="10.2" rx="5.1" ry="5.1"/>
<rect x="378.0" y="887.3" width="39.4" height="10.2" rx="5.1" ry="5.1"/>
<rect x="442.0" y="887.3" width="39.4" height="10.2" rx="5.1" ry="5.1"/>
<rect x="506.0" y="887.3" width="39.4" height="10.2" rx="5.1" ry="5.1"/>
<rect x="570.0" y="887.3" width="39.4" height="10.2" rx="5.1" ry="5.1"/>
<rect x="634.0" y="887.3" width="39.4" height="10.2" rx="5.1" ry="5.1"/>
<rect x="698.0" y="887.3" width="39.4" height="10.2" rx="5.1" ry="5.1"/>
<rect x="762.0" y="887.3" width="39.4" height="10.2" rx="5.1" ry="5.1"/>
<rect x="826.0" y="887.3" width="39.4" height="10.2" rx="5.1" ry="5.1"/>
<rect x="890.0" y="887.3" width="39.4" height="10.2" rx="5.1" ry="5.1"/>
<rect x="954.0" y="887.3" width="39.4" height="10.2" rx="5.1" ry="5.1"/>
<rect x="1018.0" y="887.3" width="39.4" height="10.2" rx="5.1" ry="5.1"/>
<rect x="1082.0" y="887.3" width="39.4" height="10.2" rx="5.1" ry="5.1"/>
<rect x="1146.0" y="887.3" width="39.4" height="10.2" rx="5.1" ry="5.1"/>
<rect x="1210.0" y="887.3" width="39.4" height="10.2" rx="5.1" ry="5.1"/>
<rect x="1274.0" y="887.3" width="39.4" height="10.2" rx="5.1" ry="5.1"/>
<rect x="1338.0" y="887.3" width="39.4" height="10.2" rx="5.1" ry="5.1"/>
<rect x="1402.0" y="887.3" width="39.4" height="10.2" rx="5.1" ry="5.1"/>
</g>
<g fill="#f6f6f6">
<path d="M59.2,891.6 C62.0,890.6 93.4,890.6 96.2,891.6 C96.8,894.5 94.0,897.3 91.0,897.3 L64.4,897.3 C61.4,897.3 58.6,894.5 59.2,891.6z"/>
<path d="M123.2,891.6 C126.0,890.6 157.4,890.6 160.2,891.6 C160.8,894.5 158.0,897.3 155.0,897.3 L128.4,897.3 C125.4,897.3 122.6,894.5 123.2,891.6z"/>
<path d="M187.2,891.6 C190.0,890.6 221.4,890.6 224.2,891.6 C224.8,894.5 222.0,897.3 219.0,897.3 L192.4,897.3 C189.4,897.3 186.6,894.5 187.2,891.6z"/>
<path d="M251.2,891.6 C254.0,890.6 285.4,890.6 288.2,891.6 C288.8,894.5 286.0,897.3 283.0,897.3 L256.4,897.3 C253.4,897.3 250.6,894.5 251.2,891.6z"/>
<path d="M315.2,891.6 C318.0,890.6 349.4,890.6 352.2,891.6 C352.8,894.5 350.0,897.3 347.0,897.3 L320.4,897.3 C317.4,897.3 314.6,894.5 315.2,891.6z"/>
<path d="M379.2,891.6 C382.0,890.6 413.4,890.6 416.2,891.6 C416.8,894.5 414.0,897.3 411.0,897.3 L384.4,897.3 C381.4,897.3 378.6,894.5 379.2,891.6z"/>
<path d="M443.2,891.6 C446.0,890.6 477.4,890.6 480.2,891.6 C480.8,894.5 478.0,897.3 475.0,897.3 L448.4,897.3 C445.4,897.3 442.6,894.5 443.2,891.6z"/>
<path d="M507.2,891.6 C510.0,890.6 541.4,890.6 544.2,891.6 C544.8,894.5 542.0,897.3 539.0,897.3 L512.4,897.3 C509.4,897.3 506.6,894.5 507.2,891.6z"/>
<path d="M571.2,891.6 C574.0,890.6 605.4,890.6 608.2,891.6 C608.8,894.5 606.0,897.3 603.0,897.3 L576.4,897.3 C573.4,897.3 570.6,894.5 571.2,891.6z"/>
<path d="M635.2,891.6 C638.0,890.6 669.4,890.6 672.2,891.6 C672.8,894.5 670.0,897.3 667.0,897.3 L640.4,897.3 C637.4,897.3 634.6,894.5 635.2,891.6z"/>
<path d="M699.2,891.6 C702.0,890.6 733.4,890.6 736.2,891.6 C736.8,894.5 734.0,897.3 731.0,897.3 L704.4,897.3 C701.4,897.3 698.6,894.5 699.2,891.6z"/>
<path d="M763.2,891.6 C766.0,890.6 797.4,890.6 800.2,891.6 C800.8,894.5 798.0,897.3 795.0,897.3 L768.4,897.3 C765.4,897.3 762.6,894.5 763.2,891.6z"/>
<path d="M827.2,891.6 C830.0,890.6 861.4,890.6 864.2,891.6 C864.8,894.5 862.0,897.3 859.0,897.3 L832.4,897.3 C829.4,897.3 826.6,894.5 827.2,891.6z"/>
<path d="M891.2,891.6 C894.0,890.6 925.4,890.6 928.2,891.6 C928.8,894.5 926.0,897.3 923.0,897.3 L896.4,897.3 C893.4,897.3 890.6,894.5 891.2,891.6z"/>
<path d="M955.2,891.6 C958.0,890.6 989.4,890.6 992.2,891.6 C992.8,894.5 990.0,897.3 987.0,897.3 L960.4,897.3 C957.4,897.3 954.6,894.5 955.2,891.6z"/>
<path d="M1019.2,891.6 C1022.0,890.6 1053.4,890.6 1056.2,891.6 C1056.8,894.5 1054.0,897.3 1051.0,897.3 L1024.4,897.3 C1021.4,897.3 1018.6,894.5 1019.2,891.6z"/>
<path d="M1083.2,891.6 C1086.0,890.6 1117.4,890.6 1120.2,891.6 C1120.8,894.5 1118.0,897.3 1115.0,897.3 L1088.4,897.3 C1085.4,897.3 1082.6,894.5 1083.2,891.6z"/>
<path d="M1147.2,891.6 C1150.0,890.6 1181.4,890.6 1184.2,891.6 C1184.8,894.5 1182.0,897.3 1179.0,897.3 L1152.4,897.3 C1149.4,897.3 1146.6,894.5 1147.2,891.6z"/>
<path d="M1211.2,891.6 C1214.0,890.6 1245.4,890.6 1248.2,891.6 C1248.8,894.5 1246.0,897.3 1243.0,897.3 L1216.4,897.3 C1213.4,897.3 1210.6,894.5 1211.2,891.6z"/>
<path d="M1275.2,891.6 C1278.0,890.6 1309.4,890.6 1312.2,891.6 C1312.8,894.5 1310.0,897.3 1307.0,897.3 L1280.4,897.3 C1277.4,897.3 1274.6,894.5 1275.2,891.6z"/>
<path d="M1339.2,891.6 C1342.0,890.6 1373.4,890.6 1376.2,891.6 C1376.8,894.5 1374.0,897.3 1371.0,897.3 L1344.4,897.3 C1341.4,897.3 1338.6,894.5 1339.2,891.6z"/>
<path d="M1403.2,891.6 C1406.0,890.6 1437.4,890.6 1440.2,891.6 C1440.8,894.5 1438.0,897.3 1435.0,897.3 L1408.4,897.3 C1405.4,897.3 1402.6,894.5 1403.2,891.6z"/>
</g>

<!-- hardware -->
<defs>
<linearGradient id="gcyl" x1="0" y1="0" x2="0" y2="1"><stop offset="0" stop-color="#5d5d5d"/><stop offset="0.18" stop-color="#c9c9c9"/><stop offset="0.36" stop-color="#ffffff"/><stop offset="0.55" stop-color="#8e8e8e"/><stop offset="0.72" stop-color="#4e4e4e"/><stop offset="0.88" stop-color="#d8d8d8"/><stop offset="1" stop-color="#8a8a8a"/></linearGradient>
<linearGradient id="gthr" x1="0" y1="0" x2="0" y2="1"><stop offset="0" stop-color="#9a9a9a"/><stop offset="0.12" stop-color="#8b8b8b"/><stop offset="0.32" stop-color="#a9a9a9"/><stop offset="0.55" stop-color="#c6c6c6"/><stop offset="0.72" stop-color="#efefef"/><stop offset="0.86" stop-color="#9b9b9b"/><stop offset="1" stop-color="#7d7d7d"/></linearGradient>
<linearGradient id="gthrb" x1="0" y1="0" x2="0" y2="1"><stop offset="0" stop-color="#8e99a4"/><stop offset="0.2" stop-color="#7c8792"/><stop offset="0.45" stop-color="#b9c4ce"/><stop offset="0.65" stop-color="#eef3f7"/><stop offset="0.85" stop-color="#8b96a1"/><stop offset="1" stop-color="#6f7a85"/></linearGradient>
<linearGradient id="gplate" x1="0" y1="0" x2="1" y2="1"><stop offset="0" stop-color="#b4b4b4"/><stop offset="0.5" stop-color="#9c9c9c"/><stop offset="1" stop-color="#868686"/></linearGradient>
<linearGradient id="gfoam" x1="0" y1="0" x2="0" y2="1"><stop offset="0" stop-color="#2a2a2a"/><stop offset="1" stop-color="#141414"/></linearGradient>
<linearGradient id="gdome" x1="0" y1="0" x2="0" y2="1"><stop offset="0" stop-color="#8d8d8d"/><stop offset="0.25" stop-color="#7a7a7a"/><stop offset="0.5" stop-color="#3d3d3d"/><stop offset="0.7" stop-color="#5a5a5a"/><stop offset="0.85" stop-color="#f4f4f4"/><stop offset="1" stop-color="#a5a5a5"/></linearGradient>
<linearGradient id="gcone" x1="0" y1="0" x2="0" y2="1"><stop offset="0" stop-color="#9aa6b1"/><stop offset="0.3" stop-color="#c5d0da"/><stop offset="0.55" stop-color="#5f6a75"/><stop offset="0.8" stop-color="#dfe7ee"/><stop offset="1" stop-color="#8d98a3"/></linearGradient>
<linearGradient id="gwash" x1="0" y1="0" x2="1" y2="0"><stop offset="0" stop-color="#2b3035"/><stop offset="0.35" stop-color="#3a4046"/><stop offset="0.7" stop-color="#cfd8df"/><stop offset="1" stop-color="#8e979e"/></linearGradient>
<linearGradient id="gwin" x1="0" y1="0" x2="1" y2="0"><stop offset="0" stop-color="#aeb7be"/><stop offset="0.3" stop-color="#dfe6eb"/><stop offset="0.6" stop-color="#7d868d"/><stop offset="1" stop-color="#2f353a"/></linearGradient>
<linearGradient id="gfront" x1="0" y1="0" x2="1" y2="0"><stop offset="0" stop-color="#b9b9b9"/><stop offset="0.4" stop-color="#d9d9d9"/><stop offset="1" stop-color="#c4c4c4"/></linearGradient>
<linearGradient id="gstep" x1="0" y1="0" x2="1" y2="0"><stop offset="0" stop-color="#f6f6f6"/><stop offset="0.6" stop-color="#dedede"/><stop offset="1" stop-color="#b9b9b9"/></linearGradient>
<linearGradient id="gnutl" x1="0" y1="0" x2="1" y2="0"><stop offset="0" stop-color="#7c7c7c"/><stop offset="0.5" stop-color="#9a9a9a"/><stop offset="1" stop-color="#808080"/></linearGradient>
<filter id="fz" x="-5%" y="-5%" width="110%" height="110%"><feTurbulence type="fractalNoise" baseFrequency="0.75" numOctaves="2" seed="4" result="n"/><feColorMatrix in="n" type="matrix" values="0 0 0 0 0.42  0 0 0 0 0.42  0 0 0 0 0.42  1.6 0 0 0 -0.62"/><feComposite in2="SourceAlpha" operator="in"/></filter>
</defs>
<g>
<polygon points="523.0,1041.0 542.5,1048.5 578.5,1113.0 572.0,1120.0 585.5,1135.5 568.0,1180.5 550.0,1184.0 537.5,1203.0 530.5,1199.5 541.0,1170.0 512.0,1132.0 521.0,1100.0 533.5,1066.0 517.5,1057.0" fill="url(#gplate)" />
<polygon points="523.0,1041.0 542.5,1048.5 533.5,1066.0 517.5,1057.0" fill="#8e8e8e" />
<polygon points="524.5,1045.0 536.0,1049.5 531.0,1060.0 520.5,1055.5" fill="#a9a9a9" />
<polygon points="561.6,1122.8 585.6,1135.6 568.0,1180.4 547.2,1174.0" fill="#f3f3f3" />
<polygon points="561.6,1122.8 566.0,1119.0 578.5,1113.0 572.0,1120.0" fill="#c9c9c9" />
<polygon points="542.4,1169.2 550.4,1183.6 537.6,1202.8 530.4,1199.6" fill="#a4a4a4" />
<polygon points="542.4,1169.2 547.2,1174.0 552.0,1176.0 550.4,1183.6" fill="#e4e4e4" />
<line x1="536" y1="1095" x2="548" y2="1118" stroke="#e8e8e8" stroke-width="1.6"/>
<line x1="541.5" y1="1150" x2="549" y2="1128" stroke="#e8e8e8" stroke-width="1.6"/>
<rect x="428" y="1112" width="118" height="22.4" fill="url(#gcyl)"/>
<rect x="470" y="1108" width="74" height="30" fill="#4a4a4a" opacity="0.55"/>
<path d="M474.5,1140.6 C471.5,1130 472.5,1113 479.5,1104.6" fill="none" stroke="#6a6a6a" stroke-width="6.6" stroke-linecap="round"/>
<path d="M474.0,1140 C471.0,1130 472.0,1113 479.0,1105" fill="none" stroke="#e4e4e4" stroke-width="4.6" stroke-linecap="round"/>
<path d="M472.8,1131 C472.2,1125 473.4,1116 475.6,1110.5" fill="none" stroke="#ffffff" stroke-width="2.0" stroke-linecap="round"/>
<path d="M483.6,1140.6 C480.6,1130 481.6,1113 488.6,1104.6" fill="none" stroke="#6a6a6a" stroke-width="6.6" stroke-linecap="round"/>
<path d="M483.1,1140 C480.1,1130 481.1,1113 488.1,1105" fill="none" stroke="#e4e4e4" stroke-width="4.6" stroke-linecap="round"/>
<path d="M481.9,1131 C481.3,1125 482.5,1116 484.7,1110.5" fill="none" stroke="#ffffff" stroke-width="2.0" stroke-linecap="round"/>
<path d="M492.7,1140.6 C489.7,1130 490.7,1113 497.7,1104.6" fill="none" stroke="#6a6a6a" stroke-width="6.6" stroke-linecap="round"/>
<path d="M492.2,1140 C489.2,1130 490.2,1113 497.2,1105" fill="none" stroke="#e4e4e4" stroke-width="4.6" stroke-linecap="round"/>
<path d="M491.0,1131 C490.4,1125 491.6,1116 493.8,1110.5" fill="none" stroke="#ffffff" stroke-width="2.0" stroke-linecap="round"/>
<path d="M501.8,1140.6 C498.8,1130 499.8,1113 506.8,1104.6" fill="none" stroke="#6a6a6a" stroke-width="6.6" stroke-linecap="round"/>
<path d="M501.3,1140 C498.3,1130 499.3,1113 506.3,1105" fill="none" stroke="#e4e4e4" stroke-width="4.6" stroke-linecap="round"/>
<path d="M500.1,1131 C499.5,1125 500.7,1116 502.9,1110.5" fill="none" stroke="#ffffff" stroke-width="2.0" stroke-linecap="round"/>
<path d="M510.9,1140.6 C507.9,1130 508.9,1113 515.9,1104.6" fill="none" stroke="#6a6a6a" stroke-width="6.6" stroke-linecap="round"/>
<path d="M510.4,1140 C507.4,1130 508.4,1113 515.4,1105" fill="none" stroke="#e4e4e4" stroke-width="4.6" stroke-linecap="round"/>
<path d="M509.2,1131 C508.6,1125 509.8,1116 512.0,1110.5" fill="none" stroke="#ffffff" stroke-width="2.0" stroke-linecap="round"/>
<path d="M520.0,1140.6 C517.0,1130 518.0,1113 525.0,1104.6" fill="none" stroke="#6a6a6a" stroke-width="6.6" stroke-linecap="round"/>
<path d="M519.5,1140 C516.5,1130 517.5,1113 524.5,1105" fill="none" stroke="#e4e4e4" stroke-width="4.6" stroke-linecap="round"/>
<path d="M518.3,1131 C517.7,1125 518.9,1116 521.1,1110.5" fill="none" stroke="#ffffff" stroke-width="2.0" stroke-linecap="round"/>
<path d="M529.1,1140.6 C526.1,1130 527.1,1113 534.1,1104.6" fill="none" stroke="#6a6a6a" stroke-width="6.6" stroke-linecap="round"/>
<path d="M528.6,1140 C525.6,1130 526.6,1113 533.6,1105" fill="none" stroke="#e4e4e4" stroke-width="4.6" stroke-linecap="round"/>
<path d="M527.4,1131 C526.8,1125 528.0,1116 530.2,1110.5" fill="none" stroke="#ffffff" stroke-width="2.0" stroke-linecap="round"/>
<path d="M538.2,1140.6 C535.2,1130 536.2,1113 543.2,1104.6" fill="none" stroke="#6a6a6a" stroke-width="6.6" stroke-linecap="round"/>
<path d="M537.7,1140 C534.7,1130 535.7,1113 542.7,1105" fill="none" stroke="#e4e4e4" stroke-width="4.6" stroke-linecap="round"/>
<path d="M536.5,1131 C535.9,1125 537.1,1116 539.3,1110.5" fill="none" stroke="#ffffff" stroke-width="2.0" stroke-linecap="round"/>
<ellipse cx="461.6" cy="1123" rx="11.5" ry="29.6" fill="#a4a4a4" stroke="#707070" stroke-width="1" transform="rotate(6 461.6 1123)"/>
<ellipse cx="463.8" cy="1123.5" rx="8.2" ry="24.5" fill="#c4c4c4" transform="rotate(6 463.8 1123.5)"/>
<ellipse cx="459" cy="1105" rx="4" ry="7" fill="#8a8a8a" opacity="0.6" transform="rotate(10 459 1105)"/>
<ellipse cx="465" cy="1124" rx="5.5" ry="13.5" fill="url(#gcyl)"/>
<rect x="428" y="1110.8" width="32" height="24.8" fill="url(#gcyl)"/>
<path d="M428,1124 L393,1123.5 C380,1123 372,1120 366.7,1115 L324,1072.5 C316,1065 310,1062 300,1061.5 C280,1061 255,1062 233,1064.7 C205,1068 175,1075 153,1086 C130,1098 105,1120 97,1142 C92,1157 96,1172 108,1185 C120,1196 145,1205 166.7,1216.7 C180,1224 188,1235 190.7,1246" fill="none" stroke="#1e1e1e" stroke-width="33.6" stroke-linejoin="round"/>
<circle cx="190.7" cy="1246" r="16.8" fill="#1e1e1e"/>
<path d="M428,1124 L393,1123.5 C380,1123 372,1120 366.7,1115 L324,1072.5 C316,1065 310,1062 300,1061.5 C280,1061 255,1062 233,1064.7 C205,1068 175,1075 153,1086 C130,1098 105,1120 97,1142 C92,1157 96,1172 108,1185 C120,1196 145,1205 166.7,1216.7 C180,1224 188,1235 190.7,1246" fill="none" stroke="#2a2a2a" stroke-width="16" stroke-linejoin="round" transform="translate(-1,-4)" opacity="0.55"/>
<path d="M428,1124 L393,1123.5 C380,1123 372,1120 366.7,1115 L324,1072.5 C316,1065 310,1062 300,1061.5 C280,1061 255,1062 233,1064.7 C205,1068 175,1075 153,1086 C130,1098 105,1120 97,1142 C92,1157 96,1172 108,1185 C120,1196 145,1205 166.7,1216.7 C180,1224 188,1235 190.7,1246" fill="none" stroke="#000" stroke-width="31" stroke-linejoin="round" stroke-linecap="round" filter="url(#fz)" opacity="0.55"/>
<rect x="832.5" y="1074" width="33" height="68.5" rx="3" fill="#f7f7f7"/>
<rect x="863.6" y="1092.4" width="75.9" height="31.0" fill="url(#gthr)"/>
<line x1="865.3" y1="1092.4" x2="866.5" y2="1123.4" stroke="#5a5a5a" stroke-width="0.95" opacity="0.55"/>
<line x1="866.8" y1="1100.9" x2="867.6" y2="1119.3" stroke="#f5f5f5" stroke-width="1.02" opacity="0.7"/>
<line x1="868.7" y1="1092.4" x2="869.9" y2="1123.4" stroke="#5a5a5a" stroke-width="0.95" opacity="0.55"/>
<line x1="870.2" y1="1100.9" x2="871.0" y2="1119.3" stroke="#f5f5f5" stroke-width="1.02" opacity="0.7"/>
<line x1="872.1" y1="1092.4" x2="873.3" y2="1123.4" stroke="#5a5a5a" stroke-width="0.95" opacity="0.55"/>
<line x1="873.6" y1="1100.9" x2="874.4" y2="1119.3" stroke="#f5f5f5" stroke-width="1.02" opacity="0.7"/>
<line x1="875.5" y1="1092.4" x2="876.7" y2="1123.4" stroke="#5a5a5a" stroke-width="0.95" opacity="0.55"/>
<line x1="877.0" y1="1100.9" x2="877.8" y2="1119.3" stroke="#f5f5f5" stroke-width="1.02" opacity="0.7"/>
<line x1="878.9" y1="1092.4" x2="880.1" y2="1123.4" stroke="#5a5a5a" stroke-width="0.95" opacity="0.55"/>
<line x1="880.4" y1="1100.9" x2="881.2" y2="1119.3" stroke="#f5f5f5" stroke-width="1.02" opacity="0.7"/>
<line x1="882.3" y1="1092.4" x2="883.5" y2="1123.4" stroke="#5a5a5a" stroke-width="0.95" opacity="0.55"/>
<line x1="883.8" y1="1100.9" x2="884.6" y2="1119.3" stroke="#f5f5f5" stroke-width="1.02" opacity="0.7"/>
<line x1="885.7" y1="1092.4" x2="886.9" y2="1123.4" stroke="#5a5a5a" stroke-width="0.95" opacity="0.55"/>
<line x1="887.2" y1="1100.9" x2="888.0" y2="1119.3" stroke="#f5f5f5" stroke-width="1.02" opacity="0.7"/>
<line x1="889.1" y1="1092.4" x2="890.3" y2="1123.4" stroke="#5a5a5a" stroke-width="0.95" opacity="0.55"/>
<line x1="890.6" y1="1100.9" x2="891.4" y2="1119.3" stroke="#f5f5f5" stroke-width="1.02" opacity="0.7"/>
<line x1="892.5" y1="1092.4" x2="893.7" y2="1123.4" stroke="#5a5a5a" stroke-width="0.95" opacity="0.55"/>
<line x1="894.0" y1="1100.9" x2="894.8" y2="1119.3" stroke="#f5f5f5" stroke-width="1.02" opacity="0.7"/>
<line x1="895.9" y1="1092.4" x2="897.1" y2="1123.4" stroke="#5a5a5a" stroke-width="0.95" opacity="0.55"/>
<line x1="897.4" y1="1100.9" x2="898.2" y2="1119.3" stroke="#f5f5f5" stroke-width="1.02" opacity="0.7"/>
<line x1="899.3" y1="1092.4" x2="900.5" y2="1123.4" stroke="#5a5a5a" stroke-width="0.95" opacity="0.55"/>
<line x1="900.8" y1="1100.9" x2="901.6" y2="1119.3" stroke="#f5f5f5" stroke-width="1.02" opacity="0.7"/>
<line x1="902.7" y1="1092.4" x2="903.9" y2="1123.4" stroke="#5a5a5a" stroke-width="0.95" opacity="0.55"/>
<line x1="904.2" y1="1100.9" x2="905.0" y2="1119.3" stroke="#f5f5f5" stroke-width="1.02" opacity="0.7"/>
<line x1="906.1" y1="1092.4" x2="907.3" y2="1123.4" stroke="#5a5a5a" stroke-width="0.95" opacity="0.55"/>
<line x1="907.6" y1="1100.9" x2="908.4" y2="1119.3" stroke="#f5f5f5" stroke-width="1.02" opacity="0.7"/>
<line x1="909.5" y1="1092.4" x2="910.7" y2="1123.4" stroke="#5a5a5a" stroke-width="0.95" opacity="0.55"/>
<line x1="911.0" y1="1100.9" x2="911.8" y2="1119.3" stroke="#f5f5f5" stroke-width="1.02" opacity="0.7"/>
<line x1="912.9" y1="1092.4" x2="914.1" y2="1123.4" stroke="#5a5a5a" stroke-width="0.95" opacity="0.55"/>
<line x1="914.4" y1="1100.9" x2="915.2" y2="1119.3" stroke="#f5f5f5" stroke-width="1.02" opacity="0.7"/>
<line x1="916.3" y1="1092.4" x2="917.5" y2="1123.4" stroke="#5a5a5a" stroke-width="0.95" opacity="0.55"/>
<line x1="917.8" y1="1100.9" x2="918.6" y2="1119.3" stroke="#f5f5f5" stroke-width="1.02" opacity="0.7"/>
<line x1="919.7" y1="1092.4" x2="920.9" y2="1123.4" stroke="#5a5a5a" stroke-width="0.95" opacity="0.55"/>
<line x1="921.2" y1="1100.9" x2="922.0" y2="1119.3" stroke="#f5f5f5" stroke-width="1.02" opacity="0.7"/>
<line x1="923.1" y1="1092.4" x2="924.3" y2="1123.4" stroke="#5a5a5a" stroke-width="0.95" opacity="0.55"/>
<line x1="924.6" y1="1100.9" x2="925.4" y2="1119.3" stroke="#f5f5f5" stroke-width="1.02" opacity="0.7"/>
<line x1="926.5" y1="1092.4" x2="927.7" y2="1123.4" stroke="#5a5a5a" stroke-width="0.95" opacity="0.55"/>
<line x1="928.0" y1="1100.9" x2="928.8" y2="1119.3" stroke="#f5f5f5" stroke-width="1.02" opacity="0.7"/>
<line x1="929.9" y1="1092.4" x2="931.1" y2="1123.4" stroke="#5a5a5a" stroke-width="0.95" opacity="0.55"/>
<line x1="931.4" y1="1100.9" x2="932.2" y2="1119.3" stroke="#f5f5f5" stroke-width="1.02" opacity="0.7"/>
<line x1="933.3" y1="1092.4" x2="934.5" y2="1123.4" stroke="#5a5a5a" stroke-width="0.95" opacity="0.55"/>
<line x1="934.8" y1="1100.9" x2="935.6" y2="1119.3" stroke="#f5f5f5" stroke-width="1.02" opacity="0.7"/>
<line x1="936.7" y1="1092.4" x2="937.9" y2="1123.4" stroke="#5a5a5a" stroke-width="0.95" opacity="0.55"/>
<line x1="938.2" y1="1100.9" x2="939.0" y2="1119.3" stroke="#f5f5f5" stroke-width="1.02" opacity="0.7"/>
<path d="M863.6,1092.4 L865.3,1090.8 L867.0,1092.4 L868.7,1090.8 L870.4,1092.4 L872.1,1090.8 L873.8,1092.4 L875.5,1090.8 L877.2,1092.4 L878.9,1090.8 L880.6,1092.4 L882.3,1090.8 L884.0,1092.4 L885.7,1090.8 L887.4,1092.4 L889.1,1090.8 L890.8,1092.4 L892.5,1090.8 L894.2,1092.4 L895.9,1090.8 L897.6,1092.4 L899.3,1090.8 L901.0,1092.4 L902.7,1090.8 L904.4,1092.4 L906.1,1090.8 L907.8,1092.4 L909.5,1090.8 L911.2,1092.4 L912.9,1090.8 L914.6,1092.4 L916.3,1090.8 L918.0,1092.4 L919.7,1090.8 L921.4,1092.4 L923.1,1090.8 L924.8,1092.4 L926.5,1090.8 L928.2,1092.4 L929.9,1090.8 L931.6,1092.4 L933.3,1090.8 L935.0,1092.4 L936.7,1090.8 L938.4,1092.4 L940.1,1090.8 L939.5,1092.4z" fill="#9d9d9d"/>
<path d="M863.6,1123.4 L865.3,1125.0 L867.0,1123.4 L868.7,1125.0 L870.4,1123.4 L872.1,1125.0 L873.8,1123.4 L875.5,1125.0 L877.2,1123.4 L878.9,1125.0 L880.6,1123.4 L882.3,1125.0 L884.0,1123.4 L885.7,1125.0 L887.4,1123.4 L889.1,1125.0 L890.8,1123.4 L892.5,1125.0 L894.2,1123.4 L895.9,1125.0 L897.6,1123.4 L899.3,1125.0 L901.0,1123.4 L902.7,1125.0 L904.4,1123.4 L906.1,1125.0 L907.8,1123.4 L909.5,1125.0 L911.2,1123.4 L912.9,1125.0 L914.6,1123.4 L916.3,1125.0 L918.0,1123.4 L919.7,1125.0 L921.4,1123.4 L923.1,1125.0 L924.8,1123.4 L926.5,1125.0 L928.2,1123.4 L929.9,1125.0 L931.6,1123.4 L933.3,1125.0 L935.0,1123.4 L936.7,1125.0 L938.4,1123.4 L940.1,1125.0 L939.5,1123.4z" fill="#8a8a8a"/>
<path d="M939,1092.5 Q942.5,1108 939,1123.5 L936.5,1123.5 L936.5,1092.5z" fill="#9a9a9a"/>
<rect x="937.2" y="1104" width="2.6" height="14" fill="#1e1e1e"/>
<polygon points="838.0,1075.8 863.6,1075.8 863.6,1108.8 842.0,1108.8 836.2,1092.0" fill="#7b7b7b" />
<polygon points="838.0,1075.8 842.5,1077.0 844.0,1108.8 842.0,1108.8 835.2,1095.0 834.6,1082.0" fill="#6a6a6a" />
<polygon points="842.0,1108.8 863.6,1108.8 863.6,1140.6 842.5,1140.6" fill="#ffffff" />
<polygon points="835.2,1095.0 842.0,1108.8 842.5,1140.6 838.5,1138.0 835.5,1122.0" fill="#767676" />
<rect x="1280.4" y="1092.4" width="110.1" height="32.8" fill="url(#gthr)"/>
<line x1="1282.2" y1="1092.4" x2="1283.4" y2="1125.2" stroke="#5a5a5a" stroke-width="1.01" opacity="0.55"/>
<line x1="1283.8" y1="1101.4" x2="1284.6" y2="1120.9" stroke="#f5f5f5" stroke-width="1.08" opacity="0.7"/>
<line x1="1285.8" y1="1092.4" x2="1287.0" y2="1125.2" stroke="#5a5a5a" stroke-width="1.01" opacity="0.55"/>
<line x1="1287.4" y1="1101.4" x2="1288.2" y2="1120.9" stroke="#f5f5f5" stroke-width="1.08" opacity="0.7"/>
<line x1="1289.4" y1="1092.4" x2="1290.6" y2="1125.2" stroke="#5a5a5a" stroke-width="1.01" opacity="0.55"/>
<line x1="1291.0" y1="1101.4" x2="1291.8" y2="1120.9" stroke="#f5f5f5" stroke-width="1.08" opacity="0.7"/>
<line x1="1293.0" y1="1092.4" x2="1294.2" y2="1125.2" stroke="#5a5a5a" stroke-width="1.01" opacity="0.55"/>
<line x1="1294.6" y1="1101.4" x2="1295.4" y2="1120.9" stroke="#f5f5f5" stroke-width="1.08" opacity="0.7"/>
<line x1="1296.6" y1="1092.4" x2="1297.8" y2="1125.2" stroke="#5a5a5a" stroke-width="1.01" opacity="0.55"/>
<line x1="1298.2" y1="1101.4" x2="1299.0" y2="1120.9" stroke="#f5f5f5" stroke-width="1.08" opacity="0.7"/>
<line x1="1300.2" y1="1092.4" x2="1301.4" y2="1125.2" stroke="#5a5a5a" stroke-width="1.01" opacity="0.55"/>
<line x1="1301.8" y1="1101.4" x2="1302.6" y2="1120.9" stroke="#f5f5f5" stroke-width="1.08" opacity="0.7"/>
<line x1="1303.8" y1="1092.4" x2="1305.0" y2="1125.2" stroke="#5a5a5a" stroke-width="1.01" opacity="0.55"/>
<line x1="1305.4" y1="1101.4" x2="1306.2" y2="1120.9" stroke="#f5f5f5" stroke-width="1.08" opacity="0.7"/>
<line x1="1307.4" y1="1092.4" x2="1308.6" y2="1125.2" stroke="#5a5a5a" stroke-width="1.01" opacity="0.55"/>
<line x1="1309.0" y1="1101.4" x2="1309.8" y2="1120.9" stroke="#f5f5f5" stroke-width="1.08" opacity="0.7"/>
<line x1="1311.0" y1="1092.4" x2="1312.2" y2="1125.2" stroke="#5a5a5a" stroke-width="1.01" opacity="0.55"/>
<line x1="1312.6" y1="1101.4" x2="1313.4" y2="1120.9" stroke="#f5f5f5" stroke-width="1.08" opacity="0.7"/>
<line x1="1314.6" y1="1092.4" x2="1315.8" y2="1125.2" stroke="#5a5a5a" stroke-width="1.01" opacity="0.55"/>
<line x1="1316.2" y1="1101.4" x2="1317.0" y2="1120.9" stroke="#f5f5f5" stroke-width="1.08" opacity="0.7"/>
<line x1="1318.2" y1="1092.4" x2="1319.4" y2="1125.2" stroke="#5a5a5a" stroke-width="1.01" opacity="0.55"/>
<line x1="1319.8" y1="1101.4" x2="1320.6" y2="1120.9" stroke="#f5f5f5" stroke-width="1.08" opacity="0.7"/>
<line x1="1321.8" y1="1092.4" x2="1323.0" y2="1125.2" stroke="#5a5a5a" stroke-width="1.01" opacity="0.55"/>
<line x1="1323.4" y1="1101.4" x2="1324.2" y2="1120.9" stroke="#f5f5f5" stroke-width="1.08" opacity="0.7"/>
<line x1="1325.4" y1="1092.4" x2="1326.6" y2="1125.2" stroke="#5a5a5a" stroke-width="1.01" opacity="0.55"/>
<line x1="1327.0" y1="1101.4" x2="1327.8" y2="1120.9" stroke="#f5f5f5" stroke-width="1.08" opacity="0.7"/>
<line x1="1329.0" y1="1092.4" x2="1330.2" y2="1125.2" stroke="#5a5a5a" stroke-width="1.01" opacity="0.55"/>
<line x1="1330.6" y1="1101.4" x2="1331.4" y2="1120.9" stroke="#f5f5f5" stroke-width="1.08" opacity="0.7"/>
<line x1="1332.6" y1="1092.4" x2="1333.8" y2="1125.2" stroke="#5a5a5a" stroke-width="1.01" opacity="0.55"/>
<line x1="1334.2" y1="1101.4" x2="1335.0" y2="1120.9" stroke="#f5f5f5" stroke-width="1.08" opacity="0.7"/>
<line x1="1336.2" y1="1092.4" x2="1337.4" y2="1125.2" stroke="#5a5a5a" stroke-width="1.01" opacity="0.55"/>
<line x1="1337.8" y1="1101.4" x2="1338.6" y2="1120.9" stroke="#f5f5f5" stroke-width="1.08" opacity="0.7"/>
<line x1="1339.8" y1="1092.4" x2="1341.0" y2="1125.2" stroke="#5a5a5a" stroke-width="1.01" opacity="0.55"/>
<line x1="1341.4" y1="1101.4" x2="1342.2" y2="1120.9" stroke="#f5f5f5" stroke-width="1.08" opacity="0.7"/>
<line x1="1343.4" y1="1092.4" x2="1344.6" y2="1125.2" stroke="#5a5a5a" stroke-width="1.01" opacity="0.55"/>
<line x1="1345.0" y1="1101.4" x2="1345.8" y2="1120.9" stroke="#f5f5f5" stroke-width="1.08" opacity="0.7"/>
<line x1="1347.0" y1="1092.4" x2="1348.2" y2="1125.2" stroke="#5a5a5a" stroke-width="1.01" opacity="0.55"/>
<line x1="1348.6" y1="1101.4" x2="1349.4" y2="1120.9" stroke="#f5f5f5" stroke-width="1.08" opacity="0.7"/>
<line x1="1350.6" y1="1092.4" x2="1351.8" y2="1125.2" stroke="#5a5a5a" stroke-width="1.01" opacity="0.55"/>
<line x1="1352.2" y1="1101.4" x2="1353.0" y2="1120.9" stroke="#f5f5f5" stroke-width="1.08" opacity="0.7"/>
<line x1="1354.2" y1="1092.4" x2="1355.4" y2="1125.2" stroke="#5a5a5a" stroke-width="1.01" opacity="0.55"/>
<line x1="1355.8" y1="1101.4" x2="1356.6" y2="1120.9" stroke="#f5f5f5" stroke-width="1.08" opacity="0.7"/>
<line x1="1357.8" y1="1092.4" x2="1359.0" y2="1125.2" stroke="#5a5a5a" stroke-width="1.01" opacity="0.55"/>
<line x1="1359.4" y1="1101.4" x2="1360.2" y2="1120.9" stroke="#f5f5f5" stroke-width="1.08" opacity="0.7"/>
<line x1="1361.4" y1="1092.4" x2="1362.6" y2="1125.2" stroke="#5a5a5a" stroke-width="1.01" opacity="0.55"/>
<line x1="1363.0" y1="1101.4" x2="1363.8" y2="1120.9" stroke="#f5f5f5" stroke-width="1.08" opacity="0.7"/>
<line x1="1365.0" y1="1092.4" x2="1366.2" y2="1125.2" stroke="#5a5a5a" stroke-width="1.01" opacity="0.55"/>
<line x1="1366.6" y1="1101.4" x2="1367.4" y2="1120.9" stroke="#f5f5f5" stroke-width="1.08" opacity="0.7"/>
<line x1="1368.6" y1="1092.4" x2="1369.8" y2="1125.2" stroke="#5a5a5a" stroke-width="1.01" opacity="0.55"/>
<line x1="1370.2" y1="1101.4" x2="1371.0" y2="1120.9" stroke="#f5f5f5" stroke-width="1.08" opacity="0.7"/>
<line x1="1372.2" y1="1092.4" x2="1373.4" y2="1125.2" stroke="#5a5a5a" stroke-width="1.01" opacity="0.55"/>
<line x1="1373.8" y1="1101.4" x2="1374.6" y2="1120.9" stroke="#f5f5f5" stroke-width="1.08" opacity="0.7"/>
<line x1="1375.8" y1="1092.4" x2="1377.0" y2="1125.2" stroke="#5a5a5a" stroke-width="1.01" opacity="0.55"/>
<line x1="1377.4" y1="1101.4" x2="1378.2" y2="1120.9" stroke="#f5f5f5" stroke-width="1.08" opacity="0.7"/>
<line x1="1379.4" y1="1092.4" x2="1380.6" y2="1125.2" stroke="#5a5a5a" stroke-width="1.01" opacity="0.55"/>
<line x1="1381.0" y1="1101.4" x2="1381.8" y2="1120.9" stroke="#f5f5f5" stroke-width="1.08" opacity="0.7"/>
<line x1="1383.0" y1="1092.4" x2="1384.2" y2="1125.2" stroke="#5a5a5a" stroke-width="1.01" opacity="0.55"/>
<line x1="1384.6" y1="1101.4" x2="1385.4" y2="1120.9" stroke="#f5f5f5" stroke-width="1.08" opacity="0.7"/>
<line x1="1386.6" y1="1092.4" x2="1387.8" y2="1125.2" stroke="#5a5a5a" stroke-width="1.01" opacity="0.55"/>
<line x1="1388.2" y1="1101.4" x2="1389.0" y2="1120.9" stroke="#f5f5f5" stroke-width="1.08" opacity="0.7"/>
<path d="M1280.4,1092.4 L1282.2,1090.8 L1284.0,1092.4 L1285.8,1090.8 L1287.6,1092.4 L1289.4,1090.8 L1291.2,1092.4 L1293.0,1090.8 L1294.8,1092.4 L1296.6,1090.8 L1298.4,1092.4 L1300.2,1090.8 L1302.0,1092.4 L1303.8,1090.8 L1305.6,1092.4 L1307.4,1090.8 L1309.2,1092.4 L1311.0,1090.8 L1312.8,1092.4 L1314.6,1090.8 L1316.4,1092.4 L1318.2,1090.8 L1320.0,1092.4 L1321.8,1090.8 L1323.6,1092.4 L1325.4,1090.8 L1327.2,1092.4 L1329.0,1090.8 L1330.8,1092.4 L1332.6,1090.8 L1334.4,1092.4 L1336.2,1090.8 L1338.0,1092.4 L1339.8,1090.8 L1341.6,1092.4 L1343.4,1090.8 L1345.2,1092.4 L1347.0,1090.8 L1348.8,1092.4 L1350.6,1090.8 L1352.4,1092.4 L1354.2,1090.8 L1356.0,1092.4 L1357.8,1090.8 L1359.6,1092.4 L1361.4,1090.8 L1363.2,1092.4 L1365.0,1090.8 L1366.8,1092.4 L1368.6,1090.8 L1370.4,1092.4 L1372.2,1090.8 L1374.0,1092.4 L1375.8,1090.8 L1377.6,1092.4 L1379.4,1090.8 L1381.2,1092.4 L1383.0,1090.8 L1384.8,1092.4 L1386.6,1090.8 L1388.4,1092.4 L1390.2,1090.8 L1390.5,1092.4z" fill="#9d9d9d"/>
<path d="M1280.4,1125.2 L1282.2,1126.8 L1284.0,1125.2 L1285.8,1126.8 L1287.6,1125.2 L1289.4,1126.8 L1291.2,1125.2 L1293.0,1126.8 L1294.8,1125.2 L1296.6,1126.8 L1298.4,1125.2 L1300.2,1126.8 L1302.0,1125.2 L1303.8,1126.8 L1305.6,1125.2 L1307.4,1126.8 L1309.2,1125.2 L1311.0,1126.8 L1312.8,1125.2 L1314.6,1126.8 L1316.4,1125.2 L1318.2,1126.8 L1320.0,1125.2 L1321.8,1126.8 L1323.6,1125.2 L1325.4,1126.8 L1327.2,1125.2 L1329.0,1126.8 L1330.8,1125.2 L1332.6,1126.8 L1334.4,1125.2 L1336.2,1126.8 L1338.0,1125.2 L1339.8,1126.8 L1341.6,1125.2 L1343.4,1126.8 L1345.2,1125.2 L1347.0,1126.8 L1348.8,1125.2 L1350.6,1126.8 L1352.4,1125.2 L1354.2,1126.8 L1356.0,1125.2 L1357.8,1126.8 L1359.6,1125.2 L1361.4,1126.8 L1363.2,1125.2 L1365.0,1126.8 L1366.8,1125.2 L1368.6,1126.8 L1370.4,1125.2 L1372.2,1126.8 L1374.0,1125.2 L1375.8,1126.8 L1377.6,1125.2 L1379.4,1126.8 L1381.2,1125.2 L1383.0,1126.8 L1384.8,1125.2 L1386.6,1126.8 L1388.4,1125.2 L1390.2,1126.8 L1390.5,1125.2z" fill="#8a8a8a"/>
<path d="M1389.5,1092.5 Q1393.5,1109 1389.5,1125 L1386.5,1125 L1386.5,1092.5z" fill="#9a9a9a"/>
<rect x="1387" y="1104" width="3.4" height="14" fill="#161616"/>
<path d="M1280.4,1074.6 C1262,1078 1256.5,1095 1256.8,1109 C1257,1124 1262,1140 1280.4,1143.6 L1278,1109z" fill="url(#gdome)"/>
<path d="M1275.5,1075.2 L1280.4,1074.6 L1280.4,1143.6 L1275.5,1142.6 Q1272.5,1109 1275.5,1075.2z" fill="#8f8f8f"/>
<path d="M1274,1080 Q1271.5,1109 1274,1138" fill="none" stroke="#e9e9e9" stroke-width="1.2"/>
<path d="M1263,1089 C1259.5,1100 1259.5,1120 1263.5,1131 C1267,1135 1270,1132 1269.5,1126 C1268,1112 1268,1102 1270,1090 C1268,1085 1265,1085 1263,1089z" fill="#2c2c2c" opacity="0.85"/>
<rect x="167.5" y="1316.9" width="232" height="21.5" fill="url(#gthrb)"/>
<path d="M167.4,1317.5 L171.6,1308 L175.6,1317.5z" fill="#aab6c1"/>
<path d="M171.6,1308 L175.6,1317.5 L173.2,1317.5z" fill="#e6edf3"/>
<path d="M170.0,1338 L174.2,1348.5 L178.2,1338z" fill="#9aa6b1"/>
<path d="M170.0,1338 L174.2,1348.5 L172.4,1338z" fill="#dfe7ee"/>
<path d="M170.4,1317 L173.6,1317 L176.2,1338.4 L173.0,1338.4z" fill="#dbe4ec"/>
<path d="M173.6,1317 L176.6,1317 L179.0,1338.4 L176.2,1338.4z" fill="#36404a" opacity="0.85"/>
<path d="M177.5,1317.5 L181.7,1308 L185.7,1317.5z" fill="#aab6c1"/>
<path d="M181.7,1308 L185.7,1317.5 L183.3,1317.5z" fill="#e6edf3"/>
<path d="M180.1,1338 L184.3,1348.5 L188.3,1338z" fill="#9aa6b1"/>
<path d="M180.1,1338 L184.3,1348.5 L182.5,1338z" fill="#dfe7ee"/>
<path d="M180.5,1317 L183.7,1317 L186.3,1338.4 L183.1,1338.4z" fill="#dbe4ec"/>
<path d="M183.7,1317 L186.7,1317 L189.1,1338.4 L186.3,1338.4z" fill="#36404a" opacity="0.85"/>
<path d="M187.6,1317.5 L191.8,1308 L195.8,1317.5z" fill="#aab6c1"/>
<path d="M191.8,1308 L195.8,1317.5 L193.4,1317.5z" fill="#e6edf3"/>
<path d="M190.2,1338 L194.4,1348.5 L198.4,1338z" fill="#9aa6b1"/>
<path d="M190.2,1338 L194.4,1348.5 L192.6,1338z" fill="#dfe7ee"/>
<path d="M190.6,1317 L193.8,1317 L196.4,1338.4 L193.2,1338.4z" fill="#dbe4ec"/>
<path d="M193.8,1317 L196.8,1317 L199.2,1338.4 L196.4,1338.4z" fill="#36404a" opacity="0.85"/>
<path d="M197.7,1317.5 L201.9,1308 L205.9,1317.5z" fill="#aab6c1"/>
<path d="M201.9,1308 L205.9,1317.5 L203.5,1317.5z" fill="#e6edf3"/>
<path d="M200.3,1338 L204.5,1348.5 L208.5,1338z" fill="#9aa6b1"/>
<path d="M200.3,1338 L204.5,1348.5 L202.7,1338z" fill="#dfe7ee"/>
<path d="M200.7,1317 L203.9,1317 L206.5,1338.4 L203.3,1338.4z" fill="#dbe4ec"/>
<path d="M203.9,1317 L206.9,1317 L209.3,1338.4 L206.5,1338.4z" fill="#36404a" opacity="0.85"/>
<path d="M207.8,1317.5 L212.0,1308 L216.0,1317.5z" fill="#aab6c1"/>
<path d="M212.0,1308 L216.0,1317.5 L213.6,1317.5z" fill="#e6edf3"/>
<path d="M210.4,1338 L214.6,1348.5 L218.6,1338z" fill="#9aa6b1"/>
<path d="M210.4,1338 L214.6,1348.5 L212.8,1338z" fill="#dfe7ee"/>
<path d="M210.8,1317 L214.0,1317 L216.6,1338.4 L213.4,1338.4z" fill="#dbe4ec"/>
<path d="M214.0,1317 L217.0,1317 L219.4,1338.4 L216.6,1338.4z" fill="#36404a" opacity="0.85"/>
<path d="M217.9,1317.5 L222.1,1308 L226.1,1317.5z" fill="#aab6c1"/>
<path d="M222.1,1308 L226.1,1317.5 L223.7,1317.5z" fill="#e6edf3"/>
<path d="M220.5,1338 L224.7,1348.5 L228.7,1338z" fill="#9aa6b1"/>
<path d="M220.5,1338 L224.7,1348.5 L222.9,1338z" fill="#dfe7ee"/>
<path d="M220.9,1317 L224.1,1317 L226.7,1338.4 L223.5,1338.4z" fill="#dbe4ec"/>
<path d="M224.1,1317 L227.1,1317 L229.5,1338.4 L226.7,1338.4z" fill="#36404a" opacity="0.85"/>
<path d="M228.0,1317.5 L232.2,1308 L236.2,1317.5z" fill="#aab6c1"/>
<path d="M232.2,1308 L236.2,1317.5 L233.8,1317.5z" fill="#e6edf3"/>
<path d="M230.6,1338 L234.8,1348.5 L238.8,1338z" fill="#9aa6b1"/>
<path d="M230.6,1338 L234.8,1348.5 L233.0,1338z" fill="#dfe7ee"/>
<path d="M231.0,1317 L234.2,1317 L236.8,1338.4 L233.6,1338.4z" fill="#dbe4ec"/>
<path d="M234.2,1317 L237.2,1317 L239.6,1338.4 L236.8,1338.4z" fill="#36404a" opacity="0.85"/>
<path d="M238.1,1317.5 L242.3,1308 L246.3,1317.5z" fill="#aab6c1"/>
<path d="M242.3,1308 L246.3,1317.5 L243.9,1317.5z" fill="#e6edf3"/>
<path d="M240.7,1338 L244.9,1348.5 L248.9,1338z" fill="#9aa6b1"/>
<path d="M240.7,1338 L244.9,1348.5 L243.1,1338z" fill="#dfe7ee"/>
<path d="M241.1,1317 L244.3,1317 L246.9,1338.4 L243.7,1338.4z" fill="#dbe4ec"/>
<path d="M244.3,1317 L247.3,1317 L249.7,1338.4 L246.9,1338.4z" fill="#36404a" opacity="0.85"/>
<path d="M248.2,1317.5 L252.4,1308 L256.4,1317.5z" fill="#aab6c1"/>
<path d="M252.4,1308 L256.4,1317.5 L254.0,1317.5z" fill="#e6edf3"/>
<path d="M250.8,1338 L255.0,1348.5 L259.0,1338z" fill="#9aa6b1"/>
<path d="M250.8,1338 L255.0,1348.5 L253.2,1338z" fill="#dfe7ee"/>
<path d="M251.2,1317 L254.4,1317 L257.0,1338.4 L253.8,1338.4z" fill="#dbe4ec"/>
<path d="M254.4,1317 L257.4,1317 L259.8,1338.4 L257.0,1338.4z" fill="#36404a" opacity="0.85"/>
<path d="M258.3,1317.5 L262.5,1308 L266.5,1317.5z" fill="#aab6c1"/>
<path d="M262.5,1308 L266.5,1317.5 L264.1,1317.5z" fill="#e6edf3"/>
<path d="M260.9,1338 L265.1,1348.5 L269.1,1338z" fill="#9aa6b1"/>
<path d="M260.9,1338 L265.1,1348.5 L263.3,1338z" fill="#dfe7ee"/>
<path d="M261.3,1317 L264.5,1317 L267.1,1338.4 L263.9,1338.4z" fill="#dbe4ec"/>
<path d="M264.5,1317 L267.5,1317 L269.9,1338.4 L267.1,1338.4z" fill="#36404a" opacity="0.85"/>
<path d="M268.4,1317.5 L272.6,1308 L276.6,1317.5z" fill="#aab6c1"/>
<path d="M272.6,1308 L276.6,1317.5 L274.2,1317.5z" fill="#e6edf3"/>
<path d="M271.0,1338 L275.2,1348.5 L279.2,1338z" fill="#9aa6b1"/>
<path d="M271.0,1338 L275.2,1348.5 L273.4,1338z" fill="#dfe7ee"/>
<path d="M271.4,1317 L274.6,1317 L277.2,1338.4 L274.0,1338.4z" fill="#dbe4ec"/>
<path d="M274.6,1317 L277.6,1317 L280.0,1338.4 L277.2,1338.4z" fill="#36404a" opacity="0.85"/>
<path d="M278.5,1317.5 L282.7,1308 L286.7,1317.5z" fill="#aab6c1"/>
<path d="M282.7,1308 L286.7,1317.5 L284.3,1317.5z" fill="#e6edf3"/>
<path d="M281.1,1338 L285.3,1348.5 L289.3,1338z" fill="#9aa6b1"/>
<path d="M281.1,1338 L285.3,1348.5 L283.5,1338z" fill="#dfe7ee"/>
<path d="M281.5,1317 L284.7,1317 L287.3,1338.4 L284.1,1338.4z" fill="#dbe4ec"/>
<path d="M284.7,1317 L287.7,1317 L290.1,1338.4 L287.3,1338.4z" fill="#36404a" opacity="0.85"/>
<path d="M288.6,1317.5 L292.8,1308 L296.8,1317.5z" fill="#aab6c1"/>
<path d="M292.8,1308 L296.8,1317.5 L294.4,1317.5z" fill="#e6edf3"/>
<path d="M291.2,1338 L295.4,1348.5 L299.4,1338z" fill="#9aa6b1"/>
<path d="M291.2,1338 L295.4,1348.5 L293.6,1338z" fill="#dfe7ee"/>
<path d="M291.6,1317 L294.8,1317 L297.4,1338.4 L294.2,1338.4z" fill="#dbe4ec"/>
<path d="M294.8,1317 L297.8,1317 L300.2,1338.4 L297.4,1338.4z" fill="#36404a" opacity="0.85"/>
<path d="M298.7,1317.5 L302.9,1308 L306.9,1317.5z" fill="#aab6c1"/>
<path d="M302.9,1308 L306.9,1317.5 L304.5,1317.5z" fill="#e6edf3"/>
<path d="M301.3,1338 L305.5,1348.5 L309.5,1338z" fill="#9aa6b1"/>
<path d="M301.3,1338 L305.5,1348.5 L303.7,1338z" fill="#dfe7ee"/>
<path d="M301.7,1317 L304.9,1317 L307.5,1338.4 L304.3,1338.4z" fill="#dbe4ec"/>
<path d="M304.9,1317 L307.9,1317 L310.3,1338.4 L307.5,1338.4z" fill="#36404a" opacity="0.85"/>
<path d="M308.8,1317.5 L313.0,1308 L317.0,1317.5z" fill="#aab6c1"/>
<path d="M313.0,1308 L317.0,1317.5 L314.6,1317.5z" fill="#e6edf3"/>
<path d="M311.4,1338 L315.6,1348.5 L319.6,1338z" fill="#9aa6b1"/>
<path d="M311.4,1338 L315.6,1348.5 L313.8,1338z" fill="#dfe7ee"/>
<path d="M311.8,1317 L315.0,1317 L317.6,1338.4 L314.4,1338.4z" fill="#dbe4ec"/>
<path d="M315.0,1317 L318.0,1317 L320.4,1338.4 L317.6,1338.4z" fill="#36404a" opacity="0.85"/>
<path d="M318.9,1317.5 L323.1,1308 L327.1,1317.5z" fill="#aab6c1"/>
<path d="M323.1,1308 L327.1,1317.5 L324.7,1317.5z" fill="#e6edf3"/>
<path d="M321.5,1338 L325.7,1348.5 L329.7,1338z" fill="#9aa6b1"/>
<path d="M321.5,1338 L325.7,1348.5 L323.9,1338z" fill="#dfe7ee"/>
<path d="M321.9,1317 L325.1,1317 L327.7,1338.4 L324.5,1338.4z" fill="#dbe4ec"/>
<path d="M325.1,1317 L328.1,1317 L330.5,1338.4 L327.7,1338.4z" fill="#36404a" opacity="0.85"/>
<path d="M329.0,1317.5 L333.2,1308 L337.2,1317.5z" fill="#aab6c1"/>
<path d="M333.2,1308 L337.2,1317.5 L334.8,1317.5z" fill="#e6edf3"/>
<path d="M331.6,1338 L335.8,1348.5 L339.8,1338z" fill="#9aa6b1"/>
<path d="M331.6,1338 L335.8,1348.5 L334.0,1338z" fill="#dfe7ee"/>
<path d="M332.0,1317 L335.2,1317 L337.8,1338.4 L334.6,1338.4z" fill="#dbe4ec"/>
<path d="M335.2,1317 L338.2,1317 L340.6,1338.4 L337.8,1338.4z" fill="#36404a" opacity="0.85"/>
<path d="M339.1,1317.5 L343.3,1308 L347.3,1317.5z" fill="#aab6c1"/>
<path d="M343.3,1308 L347.3,1317.5 L344.9,1317.5z" fill="#e6edf3"/>
<path d="M341.7,1338 L345.9,1348.5 L349.9,1338z" fill="#9aa6b1"/>
<path d="M341.7,1338 L345.9,1348.5 L344.1,1338z" fill="#dfe7ee"/>
<path d="M342.1,1317 L345.3,1317 L347.9,1338.4 L344.7,1338.4z" fill="#dbe4ec"/>
<path d="M345.3,1317 L348.3,1317 L350.7,1338.4 L347.9,1338.4z" fill="#36404a" opacity="0.85"/>
<path d="M349.2,1317.5 L353.4,1308 L357.4,1317.5z" fill="#aab6c1"/>
<path d="M353.4,1308 L357.4,1317.5 L355.0,1317.5z" fill="#e6edf3"/>
<path d="M351.8,1338 L356.0,1348.5 L360.0,1338z" fill="#9aa6b1"/>
<path d="M351.8,1338 L356.0,1348.5 L354.2,1338z" fill="#dfe7ee"/>
<path d="M352.2,1317 L355.4,1317 L358.0,1338.4 L354.8,1338.4z" fill="#dbe4ec"/>
<path d="M355.4,1317 L358.4,1317 L360.8,1338.4 L358.0,1338.4z" fill="#36404a" opacity="0.85"/>
<path d="M359.3,1317.5 L363.5,1308 L367.5,1317.5z" fill="#aab6c1"/>
<path d="M363.5,1308 L367.5,1317.5 L365.1,1317.5z" fill="#e6edf3"/>
<path d="M361.9,1338 L366.1,1348.5 L370.1,1338z" fill="#9aa6b1"/>
<path d="M361.9,1338 L366.1,1348.5 L364.3,1338z" fill="#dfe7ee"/>
<path d="M362.3,1317 L365.5,1317 L368.1,1338.4 L364.9,1338.4z" fill="#dbe4ec"/>
<path d="M365.5,1317 L368.5,1317 L370.9,1338.4 L368.1,1338.4z" fill="#36404a" opacity="0.85"/>
<path d="M369.4,1317.5 L373.6,1308 L377.6,1317.5z" fill="#aab6c1"/>
<path d="M373.6,1308 L377.6,1317.5 L375.2,1317.5z" fill="#e6edf3"/>
<path d="M372.0,1338 L376.2,1348.5 L380.2,1338z" fill="#9aa6b1"/>
<path d="M372.0,1338 L376.2,1348.5 L374.4,1338z" fill="#dfe7ee"/>
<path d="M372.4,1317 L375.6,1317 L378.2,1338.4 L375.0,1338.4z" fill="#dbe4ec"/>
<path d="M375.6,1317 L378.6,1317 L381.0,1338.4 L378.2,1338.4z" fill="#36404a" opacity="0.85"/>
<path d="M379.5,1317.5 L383.7,1308 L387.7,1317.5z" fill="#aab6c1"/>
<path d="M383.7,1308 L387.7,1317.5 L385.3,1317.5z" fill="#e6edf3"/>
<path d="M382.1,1338 L386.3,1348.5 L390.3,1338z" fill="#9aa6b1"/>
<path d="M382.1,1338 L386.3,1348.5 L384.5,1338z" fill="#dfe7ee"/>
<path d="M382.5,1317 L385.7,1317 L388.3,1338.4 L385.1,1338.4z" fill="#dbe4ec"/>
<path d="M385.7,1317 L388.7,1317 L391.1,1338.4 L388.3,1338.4z" fill="#36404a" opacity="0.85"/>
<path d="M389.6,1317.5 L393.8,1308 L397.8,1317.5z" fill="#aab6c1"/>
<path d="M393.8,1308 L397.8,1317.5 L395.4,1317.5z" fill="#e6edf3"/>
<path d="M392.2,1338 L396.4,1348.5 L400.4,1338z" fill="#9aa6b1"/>
<path d="M392.2,1338 L396.4,1348.5 L394.6,1338z" fill="#dfe7ee"/>
<path d="M392.6,1317 L395.8,1317 L398.4,1338.4 L395.2,1338.4z" fill="#dbe4ec"/>
<path d="M395.8,1317 L398.8,1317 L401.2,1338.4 L398.4,1338.4z" fill="#36404a" opacity="0.85"/>
<path d="M396.8,1314 L413,1321 L424.7,1329.5 L413,1337 L396.8,1343z" fill="#b4c0ca"/>
<path d="M404,1316 L408,1318.5 L409,1340 L405,1341.5z" fill="#5c6772"/>
<path d="M414,1322 L417,1324 L417.5,1335 L414.5,1336.5z" fill="#6b7681"/>
<polygon points="132.0,1301.7 167.5,1314.3 167.5,1339.7 132.0,1352.3" fill="url(#gcone)" />
<polygon points="95.0,1287.7 132.0,1287.7 132.0,1329.5 94.0,1329.5" fill="#8b98a3" />
<polygon points="95.0,1287.7 100.0,1287.7 99.0,1329.5 94.0,1329.5" fill="#7a8792" />
<polygon points="94.0,1329.5 132.0,1329.5 132.0,1368.8 95.0,1368.8" fill="#fbfdff" />
<polygon points="126.0,1329.5 132.0,1329.5 132.0,1368.8 128.0,1368.8" fill="#dfe5ea" />
<polygon points="605.3,1319.3 673.3,1310.4 758.7,1323.3 690.0,1333.3" fill="#6c6c6c" />
<polygon points="605.3,1319.3 690.0,1333.3 690.0,1344.7 606.0,1330.7" fill="url(#gnutl)" />
<polygon points="690.0,1333.3 758.7,1323.3 758.7,1335.3 690.0,1344.7" fill="#d2d2d2" />
<ellipse cx="675.3" cy="1321.3" rx="7.3" ry="2.4" fill="#d6d6d6"/>
<ellipse cx="676.3" cy="1321.8" rx="5" ry="1.5" fill="#a9a9a9"/>
<polygon points="943.3,1328.0 964.7,1320.0 965.3,1330.7" fill="#747474" />
<polygon points="943.3,1328.0 965.3,1330.7 964.7,1316.0 1021.3,1324.7 1024.0,1339.3 1048.0,1343.3 1051.3,1358.7 944.7,1343.3" fill="url(#gfront)" />
<polygon points="964.7,1316.0 1013.3,1296.0 1072.0,1304.4 1021.3,1324.7" fill="#6e6e6e" />
<polygon points="1021.3,1324.7 1072.0,1304.4 1073.3,1316.7 1024.0,1339.3" fill="#e2e2e2" />
<polygon points="1021.3,1324.7 1024.5,1325.0 1027.0,1338.0 1024.0,1339.3" fill="#8a8a8a" />
<polygon points="1024.0,1339.3 1073.3,1316.7 1098.7,1322.7 1048.0,1343.3" fill="url(#gstep)" />
<polygon points="1073.3,1316.7 1098.7,1322.7 1089.0,1326.7 1064.0,1321.0" fill="#7b7b7b" />
<polygon points="1048.0,1343.3 1098.7,1322.7 1100.7,1338.0 1051.3,1358.7" fill="#9c9c9c" />
<polygon points="1048.0,1343.3 1051.0,1343.0 1054.0,1357.5 1051.3,1358.7" fill="#f0f0f0" />
<ellipse cx="1017.3" cy="1310" rx="14" ry="5.6" fill="#c2c2c2" transform="rotate(-8 1017.3 1310)"/>
<ellipse cx="1014.5" cy="1310.8" rx="9" ry="4" fill="#a2a2a2" transform="rotate(-8 1014.5 1310.8)"/>
<g transform="translate(1368.8,1326.2) rotate(17.6)">
<ellipse cx="-1.5" cy="4.6" rx="62.3" ry="23.7" fill="url(#gwash)"/>
<ellipse cx="0" cy="0" rx="62.3" ry="23.7" fill="#697077"/>
<ellipse cx="0" cy="-1.5" rx="60" ry="21" fill="#71787f" opacity="0.6"/>
<ellipse cx="0" cy="0" rx="31.5" ry="11.8" fill="#c3ccd3"/>
<ellipse cx="0.5" cy="-2.8" rx="30.5" ry="9.6" fill="url(#gwin)"/>
<ellipse cx="1" cy="2.2" rx="29.5" ry="9.6" fill="#ececec"/>
</g>
</g>

<!-- labels -->
<g>
<rect x="1101" y="957" width="354" height="57" rx="8" ry="8" fill="#ff5c05"/>
<rect x="249" y="1174" width="221" height="57" rx="8" ry="8" fill="#ff5c05"/>
<rect x="741" y="1176" width="292" height="56" rx="8" ry="8" fill="#ff5c05"/>
<rect x="1119" y="1176" width="326" height="56" rx="8" ry="8" fill="#ff5c05"/>
<rect x="90" y="1395" width="338" height="56.5" rx="8" ry="8" fill="#ff5c05"/>
<rect x="542" y="1394" width="246" height="56.59999999999991" rx="8" ry="8" fill="#ff5c05"/>
<rect x="848" y="1394" width="349" height="56.59999999999991" rx="8" ry="8" fill="#ff5c05"/>
<rect x="1248" y="1394" width="207" height="56.59999999999991" rx="8" ry="8" fill="#ff5c05"/>
</g>
<g font-weight="700" font-size="31" fill="#ffffff" stroke="#ffffff" stroke-width="1.2">
<text x="1117" y="996" textLength="325" lengthAdjust="spacingAndGlyphs">C-shape brackets ×5</text>
<text x="262" y="1212.5" textLength="192" lengthAdjust="spacingAndGlyphs">Bike hook ×6</text>
<text x="752" y="1214" textLength="266" lengthAdjust="spacingAndGlyphs">M8*15mm bolt ×6</text>
<text x="1137" y="1214" textLength="285" lengthAdjust="spacingAndGlyphs">M6*20mm bolt ×10</text>
<text x="108" y="1432.5" textLength="307" lengthAdjust="spacingAndGlyphs">M8*60mm screw ×6</text>
<text x="557" y="1432" textLength="223" lengthAdjust="spacingAndGlyphs">Square nut ×10</text>
<text x="875" y="1432" textLength="308" lengthAdjust="spacingAndGlyphs">T-shape step nut ×6</text>
<text x="1262" y="1432" textLength="171" lengthAdjust="spacingAndGlyphs">Washer ×12</text>
</g>

<!-- title -->
<g font-weight="700" font-size="118.46" fill="#ffffff" stroke="#ffffff" stroke-width="14.0" stroke-linejoin="round" stroke-miterlimit="3">
<text transform="translate(132.17,88.50) scale(0.901,1)" x="-4.0" y="0">P</text>
<text transform="translate(132.17,88.50) scale(0.901,1)" x="-2.0" y="0">P</text>
<text transform="translate(132.17,88.50) scale(0.901,1)" x="0" y="0">P</text>
<text transform="translate(132.17,88.50) scale(0.901,1)" x="2.0" y="0">P</text>
<text transform="translate(132.17,88.50) scale(0.901,1)" x="4.0" y="0">P</text>
<text transform="translate(213.77,88.50) scale(0.860,1)" x="-4.0" y="0">A</text>
<text transform="translate(213.77,88.50) scale(0.860,1)" x="-2.0" y="0">A</text>
<text transform="translate(213.77,88.50) scale(0.860,1)" x="0" y="0">A</text>
<text transform="translate(213.77,88.50) scale(0.860,1)" x="2.0" y="0">A</text>
<text transform="translate(213.77,88.50) scale(0.860,1)" x="4.0" y="0">A</text>
<text transform="translate(299.76,88.50) scale(0.820,1)" x="-4.0" y="0">C</text>
<text transform="translate(299.76,88.50) scale(0.820,1)" x="-2.0" y="0">C</text>
<text transform="translate(299.76,88.50) scale(0.820,1)" x="0" y="0">C</text>
<text transform="translate(299.76,88.50) scale(0.820,1)" x="2.0" y="0">C</text>
<text transform="translate(299.76,88.50) scale(0.820,1)" x="4.0" y="0">C</text>
<text transform="translate(383.18,88.50) scale(0.884,1)" x="-4.0" y="0">K</text>
<text transform="translate(383.18,88.50) scale(0.884,1)" x="-2.0" y="0">K</text>
<text transform="translate(383.18,88.50) scale(0.884,1)" x="0" y="0">K</text>
<text transform="translate(383.18,88.50) scale(0.884,1)" x="2.0" y="0">K</text>
<text transform="translate(383.18,88.50) scale(0.884,1)" x="4.0" y="0">K</text>
<text transform="translate(468.60,88.50) scale(0.829,1)" x="-4.0" y="0">A</text>
<text transform="translate(468.60,88.50) scale(0.829,1)" x="-2.0" y="0">A</text>
<text transform="translate(468.60,88.50) scale(0.829,1)" x="0" y="0">A</text>
<text transform="translate(468.60,88.50) scale(0.829,1)" x="2.0" y="0">A</text>
<text transform="translate(468.60,88.50) scale(0.829,1)" x="4.0" y="0">A</text>
<text transform="translate(552.48,88.50) scale(0.893,1)" x="-2.4" y="0">G</text>
<text transform="translate(552.48,88.50) scale(0.893,1)" x="-1.2" y="0">G</text>
<text transform="translate(552.48,88.50) scale(0.893,1)" x="0" y="0">G</text>
<text transform="translate(552.48,88.50) scale(0.893,1)" x="1.2" y="0">G</text>
<text transform="translate(552.48,88.50) scale(0.893,1)" x="2.4" y="0">G</text>
<text transform="translate(642.24,88.50) scale(0.820,1)" x="-4.0" y="0">E</text>
<text transform="translate(642.24,88.50) scale(0.820,1)" x="-2.0" y="0">E</text>
<text transform="translate(642.24,88.50) scale(0.820,1)" x="0" y="0">E</text>
<text transform="translate(642.24,88.50) scale(0.820,1)" x="2.0" y="0">E</text>
<text transform="translate(642.24,88.50) scale(0.820,1)" x="4.0" y="0">E</text>
<text transform="translate(752.23,88.50) scale(0.837,1)" x="-4.0" y="0">I</text>
<text transform="translate(752.23,88.50) scale(0.837,1)" x="-2.0" y="0">I</text>
<text transform="translate(752.23,88.50) scale(0.837,1)" x="0" y="0">I</text>
<text transform="translate(752.23,88.50) scale(0.837,1)" x="2.0" y="0">I</text>
<text transform="translate(752.23,88.50) scale(0.837,1)" x="4.0" y="0">I</text>
<text transform="translate(794.16,88.50) scale(0.909,1)" x="-4.0" y="0">N</text>
<text transform="translate(794.16,88.50) scale(0.909,1)" x="-2.0" y="0">N</text>
<text transform="translate(794.16,88.50) scale(0.909,1)" x="0" y="0">N</text>
<text transform="translate(794.16,88.50) scale(0.909,1)" x="2.0" y="0">N</text>
<text transform="translate(794.16,88.50) scale(0.909,1)" x="4.0" y="0">N</text>
<text transform="translate(882.78,88.50) scale(0.831,1)" x="-4.0" y="0">C</text>
<text transform="translate(882.78,88.50) scale(0.831,1)" x="-2.0" y="0">C</text>
<text transform="translate(882.78,88.50) scale(0.831,1)" x="0" y="0">C</text>
<text transform="translate(882.78,88.50) scale(0.831,1)" x="2.0" y="0">C</text>
<text transform="translate(882.78,88.50) scale(0.831,1)" x="4.0" y="0">C</text>
<text transform="translate(971.23,88.50) scale(0.829,1)" x="-4.0" y="0">L</text>
<text transform="translate(971.23,88.50) scale(0.829,1)" x="-2.0" y="0">L</text>
<text transform="translate(971.23,88.50) scale(0.829,1)" x="0" y="0">L</text>
<text transform="translate(971.23,88.50) scale(0.829,1)" x="2.0" y="0">L</text>
<text transform="translate(971.23,88.50) scale(0.829,1)" x="4.0" y="0">L</text>
<text transform="translate(1045.91,88.50) scale(0.751,1)" x="-4.0" y="0">U</text>
<text transform="translate(1045.91,88.50) scale(0.751,1)" x="-2.0" y="0">U</text>
<text transform="translate(1045.91,88.50) scale(0.751,1)" x="0" y="0">U</text>
<text transform="translate(1045.91,88.50) scale(0.751,1)" x="2.0" y="0">U</text>
<text transform="translate(1045.91,88.50) scale(0.751,1)" x="4.0" y="0">U</text>
<text transform="translate(1122.20,88.50) scale(0.866,1)" x="-4.0" y="0">D</text>
<text transform="translate(1122.20,88.50) scale(0.866,1)" x="-2.0" y="0">D</text>
<text transform="translate(1122.20,88.50) scale(0.866,1)" x="0" y="0">D</text>
<text transform="translate(1122.20,88.50) scale(0.866,1)" x="2.0" y="0">D</text>
<text transform="translate(1122.20,88.50) scale(0.866,1)" x="4.0" y="0">D</text>
<text transform="translate(1210.23,88.50) scale(0.833,1)" x="-4.0" y="0">E</text>
<text transform="translate(1210.23,88.50) scale(0.833,1)" x="-2.0" y="0">E</text>
<text transform="translate(1210.23,88.50) scale(0.833,1)" x="0" y="0">E</text>
<text transform="translate(1210.23,88.50) scale(0.833,1)" x="2.0" y="0">E</text>
<text transform="translate(1210.23,88.50) scale(0.833,1)" x="4.0" y="0">E</text>
<text transform="translate(1290.21,88.50) scale(0.854,1)" x="-4.0" y="0">D</text>
<text transform="translate(1290.21,88.50) scale(0.854,1)" x="-2.0" y="0">D</text>
<text transform="translate(1290.21,88.50) scale(0.854,1)" x="0" y="0">D</text>
<text transform="translate(1290.21,88.50) scale(0.854,1)" x="2.0" y="0">D</text>
<text transform="translate(1290.21,88.50) scale(0.854,1)" x="4.0" y="0">D</text>
</g>
<g font-weight="700" font-size="118.46" fill="#ff5c05" stroke="#ff5c05" stroke-width="6.0" stroke-linejoin="miter" stroke-miterlimit="3">
<text transform="translate(132.17,88.50) scale(0.901,1)" x="-4.0" y="0">P</text>
<text transform="translate(132.17,88.50) scale(0.901,1)" x="-2.0" y="0">P</text>
<text transform="translate(132.17,88.50) scale(0.901,1)" x="0" y="0">P</text>
<text transform="translate(132.17,88.50) scale(0.901,1)" x="2.0" y="0">P</text>
<text transform="translate(132.17,88.50) scale(0.901,1)" x="4.0" y="0">P</text>
<text transform="translate(213.77,88.50) scale(0.860,1)" x="-4.0" y="0">A</text>
<text transform="translate(213.77,88.50) scale(0.860,1)" x="-2.0" y="0">A</text>
<text transform="translate(213.77,88.50) scale(0.860,1)" x="0" y="0">A</text>
<text transform="translate(213.77,88.50) scale(0.860,1)" x="2.0" y="0">A</text>
<text transform="translate(213.77,88.50) scale(0.860,1)" x="4.0" y="0">A</text>
<text transform="translate(299.76,88.50) scale(0.820,1)" x="-4.0" y="0">C</text>
<text transform="translate(299.76,88.50) scale(0.820,1)" x="-2.0" y="0">C</text>
<text transform="translate(299.76,88.50) scale(0.820,1)" x="0" y="0">C</text>
<text transform="translate(299.76,88.50) scale(0.820,1)" x="2.0" y="0">C</text>
<text transform="translate(299.76,88.50) scale(0.820,1)" x="4.0" y="0">C</text>
<text transform="translate(383.18,88.50) scale(0.884,1)" x="-4.0" y="0">K</text>
<text transform="translate(383.18,88.50) scale(0.884,1)" x="-2.0" y="0">K</text>
<text transform="translate(383.18,88.50) scale(0.884,1)" x="0" y="0">K</text>
<text transform="translate(383.18,88.50) scale(0.884,1)" x="2.0" y="0">K</text>
<text transform="translate(383.18,88.50) scale(0.884,1)" x="4.0" y="0">K</text>
<text transform="translate(468.60,88.50) scale(0.829,1)" x="-4.0" y="0">A</text>
<text transform="translate(468.60,88.50) scale(0.829,1)" x="-2.0" y="0">A</text>
<text transform="translate(468.60,88.50) scale(0.829,1)" x="0" y="0">A</text>
<text transform="translate(468.60,88.50) scale(0.829,1)" x="2.0" y="0">A</text>
<text transform="translate(468.60,88.50) scale(0.829,1)" x="4.0" y="0">A</text>
<text transform="translate(552.48,88.50) scale(0.893,1)" x="-2.4" y="0">G</text>
<text transform="translate(552.48,88.50) scale(0.893,1)" x="-1.2" y="0">G</text>
<text transform="translate(552.48,88.50) scale(0.893,1)" x="0" y="0">G</text>
<text transform="translate(552.48,88.50) scale(0.893,1)" x="1.2" y="0">G</text>
<text transform="translate(552.48,88.50) scale(0.893,1)" x="2.4" y="0">G</text>
<text transform="translate(642.24,88.50) scale(0.820,1)" x="-4.0" y="0">E</text>
<text transform="translate(642.24,88.50) scale(0.820,1)" x="-2.0" y="0">E</text>
<text transform="translate(642.24,88.50) scale(0.820,1)" x="0" y="0">E</text>
<text transform="translate(642.24,88.50) scale(0.820,1)" x="2.0" y="0">E</text>
<text transform="translate(642.24,88.50) scale(0.820,1)" x="4.0" y="0">E</text>
<text transform="translate(752.23,88.50) scale(0.837,1)" x="-4.0" y="0">I</text>
<text transform="translate(752.23,88.50) scale(0.837,1)" x="-2.0" y="0">I</text>
<text transform="translate(752.23,88.50) scale(0.837,1)" x="0" y="0">I</text>
<text transform="translate(752.23,88.50) scale(0.837,1)" x="2.0" y="0">I</text>
<text transform="translate(752.23,88.50) scale(0.837,1)" x="4.0" y="0">I</text>
<text transform="translate(794.16,88.50) scale(0.909,1)" x="-4.0" y="0">N</text>
<text transform="translate(794.16,88.50) scale(0.909,1)" x="-2.0" y="0">N</text>
<text transform="translate(794.16,88.50) scale(0.909,1)" x="0" y="0">N</text>
<text transform="translate(794.16,88.50) scale(0.909,1)" x="2.0" y="0">N</text>
<text transform="translate(794.16,88.50) scale(0.909,1)" x="4.0" y="0">N</text>
<text transform="translate(882.78,88.50) scale(0.831,1)" x="-4.0" y="0">C</text>
<text transform="translate(882.78,88.50) scale(0.831,1)" x="-2.0" y="0">C</text>
<text transform="translate(882.78,88.50) scale(0.831,1)" x="0" y="0">C</text>
<text transform="translate(882.78,88.50) scale(0.831,1)" x="2.0" y="0">C</text>
<text transform="translate(882.78,88.50) scale(0.831,1)" x="4.0" y="0">C</text>
<text transform="translate(971.23,88.50) scale(0.829,1)" x="-4.0" y="0">L</text>
<text transform="translate(971.23,88.50) scale(0.829,1)" x="-2.0" y="0">L</text>
<text transform="translate(971.23,88.50) scale(0.829,1)" x="0" y="0">L</text>
<text transform="translate(971.23,88.50) scale(0.829,1)" x="2.0" y="0">L</text>
<text transform="translate(971.23,88.50) scale(0.829,1)" x="4.0" y="0">L</text>
<text transform="translate(1045.91,88.50) scale(0.751,1)" x="-4.0" y="0">U</text>
<text transform="translate(1045.91,88.50) scale(0.751,1)" x="-2.0" y="0">U</text>
<text transform="translate(1045.91,88.50) scale(0.751,1)" x="0" y="0">U</text>
<text transform="translate(1045.91,88.50) scale(0.751,1)" x="2.0" y="0">U</text>
<text transform="translate(1045.91,88.50) scale(0.751,1)" x="4.0" y="0">U</text>
<text transform="translate(1122.20,88.50) scale(0.866,1)" x="-4.0" y="0">D</text>
<text transform="translate(1122.20,88.50) scale(0.866,1)" x="-2.0" y="0">D</text>
<text transform="translate(1122.20,88.50) scale(0.866,1)" x="0" y="0">D</text>
<text transform="translate(1122.20,88.50) scale(0.866,1)" x="2.0" y="0">D</text>
<text transform="translate(1122.20,88.50) scale(0.866,1)" x="4.0" y="0">D</text>
<text transform="translate(1210.23,88.50) scale(0.833,1)" x="-4.0" y="0">E</text>
<text transform="translate(1210.23,88.50) scale(0.833,1)" x="-2.0" y="0">E</text>
<text transform="translate(1210.23,88.50) scale(0.833,1)" x="0" y="0">E</text>
<text transform="translate(1210.23,88.50) scale(0.833,1)" x="2.0" y="0">E</text>
<text transform="translate(1210.23,88.50) scale(0.833,1)" x="4.0" y="0">E</text>
<text transform="translate(1290.21,88.50) scale(0.854,1)" x="-4.0" y="0">D</text>
<text transform="translate(1290.21,88.50) scale(0.854,1)" x="-2.0" y="0">D</text>
<text transform="translate(1290.21,88.50) scale(0.854,1)" x="0" y="0">D</text>
<text transform="translate(1290.21,88.50) scale(0.854,1)" x="2.0" y="0">D</text>
<text transform="translate(1290.21,88.50) scale(0.854,1)" x="4.0" y="0">D</text>
</g>

</svg>
</body>
</html>
